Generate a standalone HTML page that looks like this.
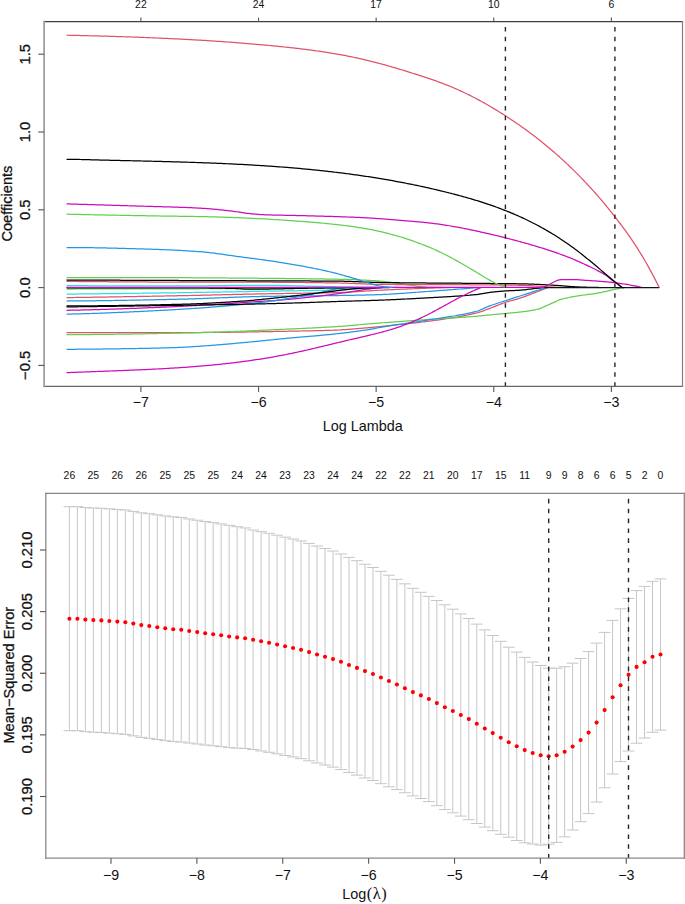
<!DOCTYPE html>
<html><head><meta charset="utf-8"><title>Lasso</title><style>
html,body{margin:0;padding:0;background:#fff;}
body{width:685px;height:904px;overflow:hidden;font-family:"Liberation Sans", sans-serif;}
svg{display:block;}
svg text{font-family:"Liberation Sans", sans-serif;fill:#111111;}
svg text.r{stroke:#111111;stroke-width:0.28px;}
</style></head><body>
<svg width="685" height="904" viewBox="0 0 685 904">
<rect width="685" height="904" fill="#fff"/>
<g fill="none" stroke-width="1.25" stroke-linejoin="round" stroke-linecap="round">
<path d="M67 277.5L68.5 277.5L70 277.5L71.5 277.5L73 277.5L74.5 277.5L76 277.5L77.5 277.5L79 277.5L80.5 277.5L82 277.5L83.5 277.51L85 277.51L86.5 277.51L88 277.51L89.5 277.51L91 277.51L92.5 277.51L94 277.51L95.5 277.52L97 277.52L98.5 277.52L100 277.52L101.5 277.52L103 277.52L104.5 277.53L106 277.53L107.5 277.53L109 277.53L110.5 277.54L112 277.54L113.5 277.54L115 277.54L116.5 277.55L118 277.55L119.5 277.55L121 277.55L122.5 277.56L124 277.56L125.5 277.56L127 277.56L128.5 277.57L130 277.57L131.5 277.57L133 277.58L134.5 277.58L136 277.58L137.5 277.59L139 277.59L140.5 277.59L142 277.6L143.5 277.6L145 277.6L146.5 277.61L148 277.61L149.5 277.62L151 277.62L152.5 277.62L154 277.63L155.5 277.63L157 277.64L158.5 277.64L160 277.64L161.5 277.65L163 277.65L164.5 277.66L166 277.66L167.5 277.66L169 277.67L170.5 277.67L172 277.68L173.5 277.68L175 277.69L176.5 277.69L178 277.69L179.5 277.7L181 277.7L182.5 277.71L184 277.71L185.5 277.72L187 277.73L188.5 277.73L190 277.74L191.5 277.75L193 277.75L194.5 277.76L196 277.77L197.5 277.78L199 277.79L200.5 277.8L202 277.81L203.5 277.81L205 277.82L206.5 277.84L208 277.85L209.5 277.86L211 277.87L212.5 277.88L214 277.89L215.5 277.9L217 277.91L218.5 277.92L220 277.94L221.5 277.95L223 277.96L224.5 277.97L226 277.98L227.5 278L229 278.01L230.5 278.02L232 278.03L233.5 278.05L235 278.06L236.5 278.07L238 278.08L239.5 278.1L241 278.11L242.5 278.12L244 278.13L245.5 278.15L247 278.16L248.5 278.17L250 278.18L251.5 278.2L253 278.21L254.5 278.22L256 278.23L257.5 278.24L259 278.26L260.5 278.27L262 278.28L263.5 278.3L265 278.31L266.5 278.32L268 278.33L269.5 278.35L271 278.36L272.5 278.37L274 278.39L275.5 278.4L277 278.42L278.5 278.43L280 278.44L281.5 278.46L283 278.47L284.5 278.49L286 278.5L287.5 278.52L289 278.54L290.5 278.55L292 278.57L293.5 278.58L295 278.6L296.5 278.62L298 278.64L299.5 278.65L301 278.67L302.5 278.69L304 278.71L305.5 278.73L307 278.75L308.5 278.77L310 278.79L311.5 278.81L313 278.83L314.5 278.85L316 278.88L317.5 278.9L319 278.92L320.5 278.95L322 278.97L323.5 278.99L325 279.02L326.5 279.04L328 279.07L329.5 279.1L331 279.12L332.5 279.15L334 279.18L335.5 279.21L337 279.24L338.5 279.27L340 279.3L341.5 279.33L343 279.37L344.5 279.4L346 279.45L347.5 279.49L349 279.53L350.5 279.58L352 279.63L353.5 279.69L355 279.74L356.5 279.8L358 279.86L359.5 279.93L361 280L362.5 280.07L364 280.14L365.5 280.22L367 280.3L368.5 280.38L370 280.46L371.5 280.55L373 280.64L374.5 280.73L376 280.83L377.5 280.93L379 281.03L380.5 281.14L382 281.26L383.5 281.41L385 281.58L386.5 281.77L388 281.97L389.5 282.18L391 282.41L392.5 282.64L394 282.87L395.5 283.11L397 283.35L398.5 283.58L400 283.81L401.5 284.03L403 284.24L404.5 284.44L406 284.63L407.5 284.82L409 285.03L410.5 285.24L412 285.45L413.5 285.66L415 285.87L416.5 286.08L418 286.28L419.5 286.47L421 286.64L422.5 286.81L424 286.95L425.5 287.07L427 287.18L428.5 287.25L430 287.3L431.5 287.33L433 287.36L434.5 287.39L436 287.42L437.5 287.44L439 287.46L440.5 287.48L442 287.49L443.5 287.5L445 287.5" stroke="#61D04F"/>
<path d="M67 281.4L68.5 281.41L70 281.43L71.5 281.44L73 281.45L74.5 281.47L76 281.48L77.5 281.49L79 281.51L80.5 281.52L82 281.53L83.5 281.55L85 281.56L86.5 281.57L88 281.58L89.5 281.6L91 281.61L92.5 281.62L94 281.63L95.5 281.65L97 281.66L98.5 281.67L100 281.68L101.5 281.69L103 281.7L104.5 281.72L106 281.73L107.5 281.74L109 281.75L110.5 281.76L112 281.77L113.5 281.78L115 281.79L116.5 281.8L118 281.81L119.5 281.82L121 281.83L122.5 281.84L124 281.85L125.5 281.86L127 281.87L128.5 281.88L130 281.89L131.5 281.9L133 281.91L134.5 281.92L136 281.93L137.5 281.93L139 281.94L140.5 281.95L142 281.96L143.5 281.97L145 281.97L146.5 281.98L148 281.99L149.5 282L151 282L152.5 282.01L154 282.02L155.5 282.02L157 282.03L158.5 282.04L160 282.04L161.5 282.05L163 282.05L164.5 282.06L166 282.06L167.5 282.07L169 282.07L170.5 282.08L172 282.08L173.5 282.08L175 282.09L176.5 282.09L178 282.1L179.5 282.1L181 282.1L182.5 282.1L184 282.11L185.5 282.11L187 282.11L188.5 282.11L190 282.12L191.5 282.12L193 282.12L194.5 282.12L196 282.13L197.5 282.13L199 282.13L200.5 282.13L202 282.13L203.5 282.13L205 282.13L206.5 282.14L208 282.14L209.5 282.14L211 282.14L212.5 282.14L214 282.14L215.5 282.14L217 282.15L218.5 282.15L220 282.15L221.5 282.15L223 282.15L224.5 282.15L226 282.15L227.5 282.15L229 282.16L230.5 282.16L232 282.16L233.5 282.16L235 282.16L236.5 282.16L238 282.16L239.5 282.17L241 282.17L242.5 282.17L244 282.17L245.5 282.17L247 282.18L248.5 282.18L250 282.18L251.5 282.18L253 282.19L254.5 282.19L256 282.19L257.5 282.19L259 282.2L260.5 282.2L262 282.2L263.5 282.21L265 282.21L266.5 282.22L268 282.22L269.5 282.23L271 282.24L272.5 282.24L274 282.25L275.5 282.26L277 282.27L278.5 282.28L280 282.29L281.5 282.3L283 282.31L284.5 282.32L286 282.33L287.5 282.34L289 282.35L290.5 282.37L292 282.38L293.5 282.39L295 282.41L296.5 282.42L298 282.44L299.5 282.45L301 282.47L302.5 282.48L304 282.5L305.5 282.52L307 282.53L308.5 282.55L310 282.57L311.5 282.59L313 282.61L314.5 282.62L316 282.64L317.5 282.66L319 282.68L320.5 282.7L322 282.72L323.5 282.75L325 282.77L326.5 282.79L328 282.81L329.5 282.83L331 282.86L332.5 282.88L334 282.9L335.5 282.93L337 282.95L338.5 282.98L340 283L341.5 283.03L343 283.06L344.5 283.1L346 283.15L347.5 283.2L349 283.26L350.5 283.32L352 283.38L353.5 283.44L355 283.51L356.5 283.58L358 283.65L359.5 283.72L361 283.79L362.5 283.86L364 283.92L365.5 283.99L367 284.05L368.5 284.11L370 284.17L371.5 284.22L373 284.26L374.5 284.31L376 284.34L377.5 284.37L379 284.39L380.5 284.4L382 284.42L383.5 284.43L385 284.44L386.5 284.45L388 284.46L389.5 284.47L391 284.48L392.5 284.49L394 284.49L395.5 284.5L397 284.51L398.5 284.52L400 284.52L401.5 284.53L403 284.54L404.5 284.54L406 284.55L407.5 284.56L409 284.56L410.5 284.57L412 284.57L413.5 284.58L415 284.58L416.5 284.58L418 284.59L419.5 284.59L421 284.6L422.5 284.6L424 284.61L425.5 284.61L427 284.61L428.5 284.62L430 284.62L431.5 284.62L433 284.63L434.5 284.63L436 284.63L437.5 284.64L439 284.64L440.5 284.64L442 284.65L443.5 284.65L445 284.66L446.5 284.66L448 284.66L449.5 284.67L451 284.67L452.5 284.68L454 284.68L455.5 284.69L457 284.69L458.5 284.7L460 284.7L461.5 284.71L463 284.71L464.5 284.72L466 284.72L467.5 284.73L469 284.74L470.5 284.75L472 284.75L473.5 284.76L475 284.77L476.5 284.78L478 284.79L479.5 284.8L481 284.81L482.5 284.82L484 284.83L485.5 284.84L487 284.85L488.5 284.86L490 284.88L491.5 284.89L493 284.9L494.5 284.92L496 284.93L497.5 284.95L499 284.97L500.5 284.98L502 285L503.5 285.02L505 285.04L506.5 285.06L508 285.08L509.5 285.11L511 285.13L512.5 285.16L514 285.18L515.5 285.21L517 285.24L518.5 285.27L520 285.3L521.5 285.34L523 285.38L524.5 285.44L526 285.5L527.5 285.58L529 285.65L530.5 285.74L532 285.82L533.5 285.91L535 286L536.5 286.1L538 286.19L539.5 286.28L541 286.37L542.5 286.46L544 286.55L545.5 286.63L547 286.71L548.5 286.78L550 286.86L551.5 286.94L553 287.02L554.5 287.1L556 287.18L557.5 287.26L559 287.34L560.5 287.42L562 287.5" stroke="#DF536B"/>
<path d="M67 285.6L68.5 285.61L70 285.62L71.5 285.63L73 285.65L74.5 285.66L76 285.67L77.5 285.68L79 285.69L80.5 285.7L82 285.7L83.5 285.71L85 285.72L86.5 285.73L88 285.74L89.5 285.75L91 285.75L92.5 285.76L94 285.77L95.5 285.77L97 285.78L98.5 285.79L100 285.79L101.5 285.8L103 285.81L104.5 285.81L106 285.82L107.5 285.82L109 285.83L110.5 285.83L112 285.83L113.5 285.84L115 285.84L116.5 285.85L118 285.85L119.5 285.85L121 285.86L122.5 285.86L124 285.86L125.5 285.87L127 285.87L128.5 285.87L130 285.87L131.5 285.88L133 285.88L134.5 285.88L136 285.88L137.5 285.88L139 285.89L140.5 285.89L142 285.89L143.5 285.89L145 285.89L146.5 285.89L148 285.89L149.5 285.89L151 285.89L152.5 285.9L154 285.9L155.5 285.9L157 285.9L158.5 285.9L160 285.9L161.5 285.9L163 285.9L164.5 285.9L166 285.9L167.5 285.9L169 285.9L170.5 285.9L172 285.9L173.5 285.9L175 285.9L176.5 285.9L178 285.9L179.5 285.9L181 285.9L182.5 285.9L184 285.9L185.5 285.89L187 285.89L188.5 285.88L190 285.87L191.5 285.87L193 285.86L194.5 285.85L196 285.84L197.5 285.83L199 285.81L200.5 285.8L202 285.79L203.5 285.78L205 285.76L206.5 285.75L208 285.73L209.5 285.72L211 285.7L212.5 285.68L214 285.67L215.5 285.65L217 285.63L218.5 285.62L220 285.6L221.5 285.58L223 285.57L224.5 285.55L226 285.53L227.5 285.52L229 285.5L230.5 285.48L232 285.47L233.5 285.45L235 285.44L236.5 285.42L238 285.41L239.5 285.4L241 285.39L242.5 285.37L244 285.36L245.5 285.35L247 285.34L248.5 285.33L250 285.33L251.5 285.32L253 285.31L254.5 285.31L256 285.3L257.5 285.3L259 285.3L260.5 285.3L262 285.3L263.5 285.31L265 285.31L266.5 285.32L268 285.33L269.5 285.34L271 285.36L272.5 285.37L274 285.39L275.5 285.41L277 285.43L278.5 285.46L280 285.48L281.5 285.51L283 285.53L284.5 285.56L286 285.59L287.5 285.62L289 285.65L290.5 285.68L292 285.72L293.5 285.75L295 285.79L296.5 285.82L298 285.86L299.5 285.89L301 285.93L302.5 285.97L304 286.01L305.5 286.04L307 286.08L308.5 286.12L310 286.16L311.5 286.19L313 286.23L314.5 286.27L316 286.31L317.5 286.34L319 286.38L320.5 286.42L322 286.45L323.5 286.49L325 286.52L326.5 286.55L328 286.58L329.5 286.62L331 286.65L332.5 286.67L334 286.7L335.5 286.73L337 286.75L338.5 286.78L340 286.8L341.5 286.82L343 286.84L344.5 286.86L346 286.88L347.5 286.9L349 286.92L350.5 286.94L352 286.96L353.5 286.98L355 287L356.5 287.02L358 287.04L359.5 287.06L361 287.08L362.5 287.09L364 287.11L365.5 287.13L367 287.15L368.5 287.16L370 287.18L371.5 287.2L373 287.21L374.5 287.23L376 287.25L377.5 287.26L379 287.28L380.5 287.3L382 287.31L383.5 287.33L385 287.35L386.5 287.36L388 287.38L389.5 287.39L391 287.41L392.5 287.43L394 287.44L395.5 287.46L397 287.47L398.5 287.49L400 287.5" stroke="#28E2E5"/>
<path d="M67 289L68.5 289L70 289L71.5 289L73 289L74.5 288.99L76 288.99L77.5 288.99L79 288.99L80.5 288.99L82 288.99L83.5 288.99L85 288.98L86.5 288.98L88 288.98L89.5 288.98L91 288.98L92.5 288.98L94 288.97L95.5 288.97L97 288.97L98.5 288.97L100 288.97L101.5 288.96L103 288.96L104.5 288.96L106 288.96L107.5 288.95L109 288.95L110.5 288.95L112 288.95L113.5 288.94L115 288.94L116.5 288.94L118 288.94L119.5 288.93L121 288.93L122.5 288.93L124 288.93L125.5 288.92L127 288.92L128.5 288.92L130 288.91L131.5 288.91L133 288.91L134.5 288.9L136 288.9L137.5 288.9L139 288.89L140.5 288.89L142 288.89L143.5 288.89L145 288.88L146.5 288.88L148 288.88L149.5 288.87L151 288.87L152.5 288.87L154 288.86L155.5 288.86L157 288.86L158.5 288.85L160 288.85L161.5 288.84L163 288.84L164.5 288.84L166 288.83L167.5 288.83L169 288.83L170.5 288.82L172 288.82L173.5 288.82L175 288.81L176.5 288.81L178 288.8L179.5 288.8L181 288.8L182.5 288.79L184 288.79L185.5 288.79L187 288.78L188.5 288.78L190 288.77L191.5 288.77L193 288.76L194.5 288.76L196 288.76L197.5 288.75L199 288.75L200.5 288.74L202 288.74L203.5 288.73L205 288.73L206.5 288.72L208 288.72L209.5 288.71L211 288.71L212.5 288.7L214 288.69L215.5 288.69L217 288.68L218.5 288.68L220 288.67L221.5 288.67L223 288.66L224.5 288.65L226 288.65L227.5 288.64L229 288.64L230.5 288.63L232 288.62L233.5 288.62L235 288.61L236.5 288.61L238 288.6L239.5 288.59L241 288.59L242.5 288.58L244 288.57L245.5 288.57L247 288.56L248.5 288.55L250 288.55L251.5 288.54L253 288.53L254.5 288.53L256 288.52L257.5 288.51L259 288.5L260.5 288.5L262 288.49L263.5 288.48L265 288.48L266.5 288.47L268 288.46L269.5 288.45L271 288.45L272.5 288.44L274 288.43L275.5 288.42L277 288.42L278.5 288.41L280 288.4L281.5 288.39L283 288.39L284.5 288.38L286 288.37L287.5 288.36L289 288.35L290.5 288.34L292 288.34L293.5 288.33L295 288.32L296.5 288.31L298 288.3L299.5 288.29L301 288.28L302.5 288.27L304 288.27L305.5 288.26L307 288.25L308.5 288.24L310 288.23L311.5 288.22L313 288.21L314.5 288.2L316 288.19L317.5 288.18L319 288.17L320.5 288.15L322 288.14L323.5 288.13L325 288.12L326.5 288.11L328 288.1L329.5 288.09L331 288.07L332.5 288.06L334 288.05L335.5 288.04L337 288.03L338.5 288.01L340 288L341.5 287.99L343 287.97L344.5 287.96L346 287.94L347.5 287.93L349 287.91L350.5 287.89L352 287.88L353.5 287.86L355 287.84L356.5 287.82L358 287.81L359.5 287.79L361 287.77L362.5 287.75L364 287.73L365.5 287.71L367 287.69L368.5 287.66L370 287.64L371.5 287.62L373 287.6L374.5 287.58L376 287.56L377.5 287.54L379 287.51L380 287.5" stroke="#61D04F"/>
<path d="M67 294.1L68.5 294.09L70 294.07L71.5 294.06L73 294.04L74.5 294.03L76 294.01L77.5 294L79 293.98L80.5 293.97L82 293.95L83.5 293.94L85 293.92L86.5 293.9L88 293.89L89.5 293.87L91 293.86L92.5 293.84L94 293.82L95.5 293.81L97 293.79L98.5 293.77L100 293.76L101.5 293.74L103 293.72L104.5 293.7L106 293.69L107.5 293.67L109 293.65L110.5 293.63L112 293.62L113.5 293.6L115 293.58L116.5 293.56L118 293.54L119.5 293.52L121 293.51L122.5 293.49L124 293.47L125.5 293.45L127 293.43L128.5 293.41L130 293.39L131.5 293.37L133 293.35L134.5 293.33L136 293.31L137.5 293.29L139 293.27L140.5 293.25L142 293.23L143.5 293.21L145 293.19L146.5 293.17L148 293.15L149.5 293.13L151 293.11L152.5 293.09L154 293.07L155.5 293.05L157 293.03L158.5 293.01L160 292.99L161.5 292.97L163 292.94L164.5 292.92L166 292.9L167.5 292.88L169 292.86L170.5 292.84L172 292.82L173.5 292.79L175 292.77L176.5 292.75L178 292.73L179.5 292.71L181 292.69L182.5 292.66L184 292.64L185.5 292.62L187 292.59L188.5 292.57L190 292.55L191.5 292.52L193 292.5L194.5 292.47L196 292.45L197.5 292.42L199 292.4L200.5 292.37L202 292.35L203.5 292.32L205 292.3L206.5 292.27L208 292.24L209.5 292.22L211 292.19L212.5 292.16L214 292.14L215.5 292.11L217 292.08L218.5 292.06L220 292.03L221.5 292L223 291.97L224.5 291.95L226 291.92L227.5 291.89L229 291.86L230.5 291.84L232 291.81L233.5 291.78L235 291.75L236.5 291.73L238 291.7L239.5 291.67L241 291.64L242.5 291.61L244 291.59L245.5 291.56L247 291.53L248.5 291.51L250 291.48L251.5 291.45L253 291.42L254.5 291.4L256 291.37L257.5 291.34L259 291.32L260.5 291.29L262 291.27L263.5 291.24L265 291.22L266.5 291.19L268 291.17L269.5 291.14L271 291.12L272.5 291.1L274 291.08L275.5 291.06L277 291.03L278.5 291.01L280 290.99L281.5 290.97L283 290.95L284.5 290.93L286 290.91L287.5 290.89L289 290.87L290.5 290.85L292 290.82L293.5 290.8L295 290.78L296.5 290.76L298 290.74L299.5 290.72L301 290.7L302.5 290.67L304 290.65L305.5 290.63L307 290.6L308.5 290.58L310 290.55L311.5 290.53L313 290.5L314.5 290.48L316 290.45L317.5 290.42L319 290.39L320.5 290.36L322 290.33L323.5 290.3L325 290.27L326.5 290.24L328 290.21L329.5 290.17L331 290.14L332.5 290.1L334 290.06L335.5 290.02L337 289.98L338.5 289.94L340 289.9L341.5 289.85L343 289.79L344.5 289.72L346 289.65L347.5 289.56L349 289.47L350.5 289.38L352 289.27L353.5 289.17L355 289.06L356.5 288.95L358 288.83L359.5 288.72L361 288.61L362.5 288.5L364 288.39L365.5 288.28L367 288.18L368.5 288.08L370 287.99L371.5 287.91L373 287.83L374.5 287.76L376 287.7L377.5 287.65L379 287.62L380.5 287.59L382 287.57L383.5 287.55L385 287.53L386.5 287.52L388 287.51L389.5 287.5L390 287.5" stroke="#28E2E5"/>
<path d="M67 297.6L68.5 297.58L70 297.56L71.5 297.54L73 297.52L74.5 297.5L76 297.48L77.5 297.45L79 297.43L80.5 297.41L82 297.39L83.5 297.37L85 297.35L86.5 297.32L88 297.3L89.5 297.28L91 297.26L92.5 297.23L94 297.21L95.5 297.19L97 297.16L98.5 297.14L100 297.12L101.5 297.09L103 297.07L104.5 297.05L106 297.02L107.5 297L109 296.97L110.5 296.95L112 296.93L113.5 296.9L115 296.88L116.5 296.85L118 296.83L119.5 296.8L121 296.78L122.5 296.75L124 296.73L125.5 296.7L127 296.67L128.5 296.65L130 296.62L131.5 296.6L133 296.57L134.5 296.54L136 296.52L137.5 296.49L139 296.46L140.5 296.44L142 296.41L143.5 296.38L145 296.36L146.5 296.33L148 296.3L149.5 296.27L151 296.25L152.5 296.22L154 296.19L155.5 296.16L157 296.14L158.5 296.11L160 296.08L161.5 296.05L163 296.02L164.5 296L166 295.97L167.5 295.94L169 295.91L170.5 295.88L172 295.85L173.5 295.83L175 295.8L176.5 295.77L178 295.74L179.5 295.71L181 295.68L182.5 295.65L184 295.62L185.5 295.59L187 295.56L188.5 295.53L190 295.5L191.5 295.46L193 295.43L194.5 295.4L196 295.36L197.5 295.33L199 295.3L200.5 295.26L202 295.23L203.5 295.19L205 295.16L206.5 295.12L208 295.09L209.5 295.05L211 295.02L212.5 294.98L214 294.95L215.5 294.91L217 294.87L218.5 294.84L220 294.8L221.5 294.77L223 294.73L224.5 294.69L226 294.66L227.5 294.62L229 294.59L230.5 294.55L232 294.52L233.5 294.48L235 294.45L236.5 294.41L238 294.38L239.5 294.34L241 294.31L242.5 294.27L244 294.24L245.5 294.21L247 294.17L248.5 294.14L250 294.11L251.5 294.07L253 294.04L254.5 294.01L256 293.98L257.5 293.95L259 293.92L260.5 293.89L262 293.86L263.5 293.83L265 293.81L266.5 293.78L268 293.75L269.5 293.73L271 293.7L272.5 293.68L274 293.66L275.5 293.63L277 293.61L278.5 293.59L280 293.57L281.5 293.55L283 293.52L284.5 293.5L286 293.48L287.5 293.46L289 293.44L290.5 293.42L292 293.4L293.5 293.38L295 293.36L296.5 293.34L298 293.32L299.5 293.3L301 293.27L302.5 293.25L304 293.23L305.5 293.21L307 293.19L308.5 293.16L310 293.14L311.5 293.11L313 293.09L314.5 293.06L316 293.04L317.5 293.01L319 292.98L320.5 292.96L322 292.93L323.5 292.9L325 292.87L326.5 292.83L328 292.8L329.5 292.77L331 292.73L332.5 292.7L334 292.66L335.5 292.62L337 292.58L338.5 292.54L340 292.5L341.5 292.45L343 292.4L344.5 292.34L346 292.27L347.5 292.2L349 292.13L350.5 292.04L352 291.96L353.5 291.87L355 291.78L356.5 291.68L358 291.58L359.5 291.49L361 291.38L362.5 291.28L364 291.18L365.5 291.08L367 290.98L368.5 290.88L370 290.78L371.5 290.68L373 290.59L374.5 290.5L376 290.41L377.5 290.33L379 290.25L380.5 290.18L382 290.1L383.5 290.03L385 289.96L386.5 289.89L388 289.82L389.5 289.75L391 289.68L392.5 289.62L394 289.55L395.5 289.48L397 289.42L398.5 289.36L400 289.29L401.5 289.23L403 289.17L404.5 289.1L406 289.04L407.5 288.98L409 288.92L410.5 288.86L412 288.8L413.5 288.75L415 288.69L416.5 288.63L418 288.57L419.5 288.52L421 288.46L422.5 288.41L424 288.35L425.5 288.3L427 288.25L428.5 288.19L430 288.14L431.5 288.09L433 288.04L434.5 287.99L436 287.94L437.5 287.89L439 287.84L440.5 287.79L442 287.74L443.5 287.7L445 287.65L446.5 287.6L448 287.56L449.5 287.51L450 287.5" stroke="#DF536B"/>
<path d="M67 301L68.5 300.99L70 300.98L71.5 300.97L73 300.96L74.5 300.95L76 300.94L77.5 300.93L79 300.92L80.5 300.9L82 300.89L83.5 300.88L85 300.86L86.5 300.85L88 300.83L89.5 300.81L91 300.8L92.5 300.78L94 300.76L95.5 300.75L97 300.73L98.5 300.71L100 300.69L101.5 300.67L103 300.65L104.5 300.63L106 300.61L107.5 300.59L109 300.56L110.5 300.54L112 300.52L113.5 300.5L115 300.47L116.5 300.45L118 300.43L119.5 300.4L121 300.38L122.5 300.35L124 300.33L125.5 300.3L127 300.27L128.5 300.25L130 300.22L131.5 300.19L133 300.17L134.5 300.14L136 300.11L137.5 300.08L139 300.05L140.5 300.03L142 300L143.5 299.97L145 299.94L146.5 299.91L148 299.88L149.5 299.85L151 299.82L152.5 299.79L154 299.76L155.5 299.73L157 299.7L158.5 299.66L160 299.63L161.5 299.6L163 299.57L164.5 299.54L166 299.51L167.5 299.47L169 299.44L170.5 299.41L172 299.38L173.5 299.34L175 299.31L176.5 299.28L178 299.24L179.5 299.21L181 299.18L182.5 299.14L184 299.1L185.5 299.06L187 299.02L188.5 298.98L190 298.93L191.5 298.89L193 298.84L194.5 298.79L196 298.74L197.5 298.69L199 298.63L200.5 298.58L202 298.52L203.5 298.47L205 298.41L206.5 298.35L208 298.29L209.5 298.23L211 298.18L212.5 298.12L214 298.05L215.5 297.99L217 297.93L218.5 297.87L220 297.81L221.5 297.75L223 297.69L224.5 297.63L226 297.57L227.5 297.51L229 297.45L230.5 297.39L232 297.34L233.5 297.28L235 297.22L236.5 297.17L238 297.11L239.5 297.06L241 297.01L242.5 296.96L244 296.91L245.5 296.86L247 296.82L248.5 296.77L250 296.73L251.5 296.69L253 296.65L254.5 296.62L256 296.58L257.5 296.55L259 296.52L260.5 296.49L262 296.46L263.5 296.44L265 296.41L266.5 296.39L268 296.37L269.5 296.34L271 296.32L272.5 296.3L274 296.28L275.5 296.26L277 296.24L278.5 296.22L280 296.2L281.5 296.18L283 296.16L284.5 296.15L286 296.13L287.5 296.11L289 296.1L290.5 296.08L292 296.07L293.5 296.05L295 296.03L296.5 296.02L298 296L299.5 295.99L301 295.97L302.5 295.96L304 295.94L305.5 295.93L307 295.91L308.5 295.9L310 295.88L311.5 295.87L313 295.85L314.5 295.84L316 295.82L317.5 295.8L319 295.79L320.5 295.77L322 295.75L323.5 295.73L325 295.71L326.5 295.7L328 295.68L329.5 295.66L331 295.64L332.5 295.62L334 295.59L335.5 295.57L337 295.55L338.5 295.52L340 295.5L341.5 295.48L343 295.45L344.5 295.42L346 295.4L347.5 295.37L349 295.35L350.5 295.32L352 295.29L353.5 295.26L355 295.24L356.5 295.21L358 295.18L359.5 295.14L361 295.11L362.5 295.08L364 295.05L365.5 295.01L367 294.97L368.5 294.94L370 294.9L371.5 294.86L373 294.82L374.5 294.77L376 294.73L377.5 294.68L379 294.63L380.5 294.58L382 294.53L383.5 294.47L385 294.4L386.5 294.33L388 294.25L389.5 294.16L391 294.08L392.5 293.99L394 293.89L395.5 293.79L397 293.69L398.5 293.59L400 293.48L401.5 293.37L403 293.26L404.5 293.15L406 293.04L407.5 292.92L409 292.81L410.5 292.7L412 292.58L413.5 292.47L415 292.36L416.5 292.25L418 292.14L419.5 292.03L421 291.93L422.5 291.82L424 291.72L425.5 291.61L427 291.5L428.5 291.39L430 291.28L431.5 291.17L433 291.06L434.5 290.94L436 290.83L437.5 290.72L439 290.6L440.5 290.49L442 290.37L443.5 290.26L445 290.14L446.5 290.03L448 289.91L449.5 289.8L451 289.68L452.5 289.57L454 289.45L455.5 289.34L457 289.23L458.5 289.11L460 289L461.5 288.89L463 288.77L464.5 288.66L466 288.55L467.5 288.44L469 288.32L470.5 288.21L472 288.1L473.5 287.99L475 287.88L476.5 287.76L478 287.65L479.5 287.54L480 287.5" stroke="#2297E6"/>
<path d="M67 310.3L68.5 310.27L70 310.24L71.5 310.21L73 310.18L74.5 310.15L76 310.12L77.5 310.09L79 310.06L80.5 310.02L82 309.99L83.5 309.95L85 309.91L86.5 309.88L88 309.84L89.5 309.8L91 309.76L92.5 309.72L94 309.68L95.5 309.64L97 309.59L98.5 309.55L100 309.51L101.5 309.46L103 309.42L104.5 309.37L106 309.32L107.5 309.28L109 309.23L110.5 309.18L112 309.13L113.5 309.08L115 309.03L116.5 308.98L118 308.93L119.5 308.87L121 308.82L122.5 308.77L124 308.71L125.5 308.66L127 308.61L128.5 308.55L130 308.49L131.5 308.44L133 308.38L134.5 308.32L136 308.27L137.5 308.21L139 308.15L140.5 308.09L142 308.03L143.5 307.97L145 307.91L146.5 307.85L148 307.79L149.5 307.73L151 307.66L152.5 307.6L154 307.54L155.5 307.47L157 307.41L158.5 307.35L160 307.28L161.5 307.22L163 307.15L164.5 307.09L166 307.02L167.5 306.96L169 306.89L170.5 306.83L172 306.76L173.5 306.69L175 306.62L176.5 306.56L178 306.49L179.5 306.42L181 306.35L182.5 306.28L184 306.21L185.5 306.14L187 306.06L188.5 305.99L190 305.91L191.5 305.83L193 305.75L194.5 305.66L196 305.58L197.5 305.5L199 305.41L200.5 305.32L202 305.23L203.5 305.14L205 305.05L206.5 304.96L208 304.86L209.5 304.77L211 304.67L212.5 304.58L214 304.48L215.5 304.38L217 304.29L218.5 304.19L220 304.09L221.5 303.99L223 303.89L224.5 303.79L226 303.69L227.5 303.58L229 303.48L230.5 303.38L232 303.28L233.5 303.18L235 303.07L236.5 302.97L238 302.87L239.5 302.77L241 302.66L242.5 302.56L244 302.46L245.5 302.36L247 302.26L248.5 302.16L250 302.06L251.5 301.96L253 301.86L254.5 301.76L256 301.66L257.5 301.56L259 301.46L260.5 301.37L262 301.27L263.5 301.18L265 301.09L266.5 301L268 300.91L269.5 300.82L271 300.72L272.5 300.63L274 300.53L275.5 300.43L277 300.32L278.5 300.21L280 300.1L281.5 299.98L283 299.86L284.5 299.73L286 299.6L287.5 299.47L289 299.33L290.5 299.19L292 299.05L293.5 298.91L295 298.76L296.5 298.61L298 298.45L299.5 298.3L301 298.14L302.5 297.98L304 297.82L305.5 297.65L307 297.49L308.5 297.32L310 297.15L311.5 296.98L313 296.81L314.5 296.64L316 296.46L317.5 296.29L319 296.12L320.5 295.94L322 295.76L323.5 295.58L325 295.39L326.5 295.21L328 295.01L329.5 294.82L331 294.62L332.5 294.42L334 294.22L335.5 294.01L337 293.81L338.5 293.6L340 293.39L341.5 293.18L343 292.97L344.5 292.76L346 292.56L347.5 292.35L349 292.14L350.5 291.93L352 291.71L353.5 291.48L355 291.24L356.5 290.99L358 290.74L359.5 290.49L361 290.23L362.5 289.98L364 289.73L365.5 289.48L367 289.25L368.5 289.02L370 288.81L371.5 288.62L373 288.44L374.5 288.28L376 288.14L377.5 288.03L379 287.94L380.5 287.85L382 287.77L383.5 287.7L385 287.63L386.5 287.58L388 287.54L389.5 287.51L390 287.5" stroke="#CD0BBC"/>
<path d="M67 314.1L68.5 314.07L70 314.04L71.5 314.01L73 313.98L74.5 313.95L76 313.91L77.5 313.88L79 313.84L80.5 313.8L82 313.76L83.5 313.72L85 313.68L86.5 313.64L88 313.59L89.5 313.55L91 313.5L92.5 313.45L94 313.4L95.5 313.35L97 313.3L98.5 313.25L100 313.2L101.5 313.15L103 313.09L104.5 313.04L106 312.98L107.5 312.92L109 312.86L110.5 312.8L112 312.74L113.5 312.68L115 312.62L116.5 312.56L118 312.49L119.5 312.43L121 312.36L122.5 312.3L124 312.23L125.5 312.16L127 312.09L128.5 312.02L130 311.95L131.5 311.88L133 311.81L134.5 311.74L136 311.67L137.5 311.59L139 311.52L140.5 311.44L142 311.37L143.5 311.29L145 311.22L146.5 311.14L148 311.06L149.5 310.98L151 310.91L152.5 310.83L154 310.75L155.5 310.67L157 310.59L158.5 310.5L160 310.42L161.5 310.34L163 310.26L164.5 310.18L166 310.09L167.5 310.01L169 309.92L170.5 309.84L172 309.76L173.5 309.67L175 309.59L176.5 309.5L178 309.41L179.5 309.33L181 309.24L182.5 309.15L184 309.07L185.5 308.97L187 308.88L188.5 308.79L190 308.69L191.5 308.6L193 308.5L194.5 308.4L196 308.3L197.5 308.2L199 308.1L200.5 307.99L202 307.88L203.5 307.78L205 307.67L206.5 307.56L208 307.44L209.5 307.33L211 307.22L212.5 307.1L214 306.98L215.5 306.86L217 306.74L218.5 306.62L220 306.49L221.5 306.37L223 306.24L224.5 306.11L226 305.98L227.5 305.85L229 305.72L230.5 305.58L232 305.44L233.5 305.31L235 305.17L236.5 305.02L238 304.88L239.5 304.74L241 304.59L242.5 304.44L244 304.29L245.5 304.14L247 303.99L248.5 303.84L250 303.68L251.5 303.52L253 303.36L254.5 303.2L256 303.04L257.5 302.88L259 302.71L260.5 302.54L262 302.37L263.5 302.19L265 302.01L266.5 301.81L268 301.62L269.5 301.41L271 301.2L272.5 300.99L274 300.77L275.5 300.55L277 300.32L278.5 300.09L280 299.86L281.5 299.62L283 299.38L284.5 299.14L286 298.89L287.5 298.64L289 298.39L290.5 298.13L292 297.88L293.5 297.62L295 297.37L296.5 297.11L298 296.85L299.5 296.59L301 296.33L302.5 296.06L304 295.78L305.5 295.5L307 295.22L308.5 294.93L310 294.64L311.5 294.34L313 294.04L314.5 293.73L316 293.43L317.5 293.12L319 292.81L320.5 292.49L322 292.16L323.5 291.81L325 291.45L326.5 291.07L328 290.7L329.5 290.33L331 289.97L332.5 289.63L334 289.31L335.5 289.01L337 288.75L338.5 288.53L340 288.33L341.5 288.13L343 287.96L344.5 287.8L346 287.66L347.5 287.54L348 287.5" stroke="#2297E6"/>
<path d="M67 287.8L68.5 287.8L70 287.8L71.5 287.8L73 287.8L74.5 287.8L76 287.8L77.5 287.8L79 287.8L80.5 287.8L82 287.8L83.5 287.8L85 287.8L86.5 287.8L88 287.8L89.5 287.8L91 287.8L92.5 287.8L94 287.8L95.5 287.8L97 287.8L98.5 287.8L100 287.8L101.5 287.8L103 287.8L104.5 287.8L106 287.8L107.5 287.8L109 287.8L110.5 287.8L112 287.8L113.5 287.8L115 287.8L116.5 287.8L118 287.8L119.5 287.8L121 287.8L122.5 287.8L124 287.8L125.5 287.8L127 287.8L128.5 287.8L130 287.8L131.5 287.8L133 287.8L134.5 287.8L136 287.8L137.5 287.8L139 287.8L140.5 287.8L142 287.8L143.5 287.8L145 287.8L146.5 287.8L148 287.8L149.5 287.8L151 287.8L152.5 287.8L154 287.8L155.5 287.8L157 287.8L158.5 287.8L160 287.8L161.5 287.8L163 287.8L164.5 287.8L166 287.8L167.5 287.8L169 287.8L170.5 287.8L172 287.8L173.5 287.8L175 287.8L176.5 287.8L178 287.8L179.5 287.8L181 287.8L182.5 287.8L184 287.8L185.5 287.81L187 287.81L188.5 287.82L190 287.83L191.5 287.83L193 287.84L194.5 287.85L196 287.87L197.5 287.88L199 287.89L200.5 287.91L202 287.92L203.5 287.94L205 287.96L206.5 287.97L208 287.99L209.5 288.01L211 288.03L212.5 288.06L214 288.08L215.5 288.1L217 288.13L218.5 288.15L220 288.18L221.5 288.2L223 288.23L224.5 288.25L226 288.28L227.5 288.31L229 288.34L230.5 288.37L232 288.4L233.5 288.44L235 288.5L236.5 288.58L238 288.66L239.5 288.75L241 288.85L242.5 288.94L244 289.02L245.5 289.09L247 289.15L248.5 289.19L250 289.2L251.5 289.2L253 289.19L254.5 289.18L256 289.17L257.5 289.16L259 289.14L260.5 289.13L262 289.11L263.5 289.09L265 289.07L266.5 289.05L268 289.03L269.5 289.01L271 288.99L272.5 288.96L274 288.94L275.5 288.91L277 288.89L278.5 288.86L280 288.82L281.5 288.79L283 288.76L284.5 288.73L286 288.69L287.5 288.66L289 288.63L290.5 288.59L292 288.56L293.5 288.53L295 288.5L296.5 288.47L298 288.44L299.5 288.41L301 288.38L302.5 288.36L304 288.33L305.5 288.3L307 288.28L308.5 288.25L310 288.23L311.5 288.2L313 288.18L314.5 288.15L316 288.13L317.5 288.1L319 288.08L320.5 288.06L322 288.03L323.5 288.01L325 287.99L326.5 287.97L328 287.94L329.5 287.92L331 287.9L332.5 287.89L334 287.87L335.5 287.85L337 287.83L338.5 287.82L340 287.8L341.5 287.79L343 287.77L344.5 287.76L346 287.74L347.5 287.73L349 287.71L350.5 287.7L352 287.69L353.5 287.67L355 287.66L356.5 287.65L358 287.63L359.5 287.62L361 287.61L362.5 287.6L364 287.59L365.5 287.58L367 287.57L368.5 287.56L370 287.55L371.5 287.54L373 287.53L374.5 287.52L376 287.52L377.5 287.51L379 287.5L380 287.5" stroke="#000000"/>
<path d="M67 306.9L68.5 306.88L70 306.86L71.5 306.84L73 306.83L74.5 306.81L76 306.79L77.5 306.77L79 306.75L80.5 306.73L82 306.71L83.5 306.69L85 306.67L86.5 306.65L88 306.63L89.5 306.62L91 306.6L92.5 306.58L94 306.56L95.5 306.54L97 306.52L98.5 306.5L100 306.48L101.5 306.46L103 306.44L104.5 306.41L106 306.39L107.5 306.37L109 306.35L110.5 306.33L112 306.31L113.5 306.29L115 306.27L116.5 306.25L118 306.23L119.5 306.21L121 306.19L122.5 306.16L124 306.14L125.5 306.12L127 306.1L128.5 306.08L130 306.06L131.5 306.04L133 306.01L134.5 305.99L136 305.97L137.5 305.95L139 305.93L140.5 305.9L142 305.88L143.5 305.86L145 305.84L146.5 305.81L148 305.79L149.5 305.77L151 305.75L152.5 305.72L154 305.7L155.5 305.68L157 305.66L158.5 305.63L160 305.61L161.5 305.59L163 305.56L164.5 305.54L166 305.52L167.5 305.5L169 305.47L170.5 305.45L172 305.43L173.5 305.4L175 305.38L176.5 305.35L178 305.33L179.5 305.31L181 305.28L182.5 305.26L184 305.24L185.5 305.21L187 305.19L188.5 305.17L190 305.14L191.5 305.12L193 305.1L194.5 305.07L196 305.05L197.5 305.03L199 305L200.5 304.98L202 304.95L203.5 304.93L205 304.91L206.5 304.88L208 304.86L209.5 304.83L211 304.81L212.5 304.79L214 304.76L215.5 304.74L217 304.71L218.5 304.69L220 304.66L221.5 304.64L223 304.61L224.5 304.59L226 304.56L227.5 304.53L229 304.51L230.5 304.48L232 304.45L233.5 304.43L235 304.4L236.5 304.37L238 304.34L239.5 304.32L241 304.29L242.5 304.26L244 304.23L245.5 304.2L247 304.17L248.5 304.14L250 304.11L251.5 304.08L253 304.05L254.5 304.02L256 303.99L257.5 303.95L259 303.92L260.5 303.89L262 303.86L263.5 303.82L265 303.79L266.5 303.75L268 303.71L269.5 303.68L271 303.64L272.5 303.6L274 303.56L275.5 303.52L277 303.48L278.5 303.44L280 303.39L281.5 303.35L283 303.31L284.5 303.27L286 303.22L287.5 303.18L289 303.13L290.5 303.09L292 303.04L293.5 303L295 302.95L296.5 302.91L298 302.86L299.5 302.82L301 302.77L302.5 302.72L304 302.67L305.5 302.62L307 302.57L308.5 302.52L310 302.47L311.5 302.42L313 302.36L314.5 302.31L316 302.25L317.5 302.2L319 302.14L320.5 302.09L322 302.03L323.5 301.98L325 301.92L326.5 301.87L328 301.81L329.5 301.76L331 301.71L332.5 301.65L334 301.6L335.5 301.55L337 301.5L338.5 301.45L340 301.4L341.5 301.35L343 301.31L344.5 301.26L346 301.22L347.5 301.17L349 301.13L350.5 301.09L352 301.04L353.5 301L355 300.96L356.5 300.92L358 300.88L359.5 300.84L361 300.79L362.5 300.75L364 300.71L365.5 300.67L367 300.62L368.5 300.58L370 300.53L371.5 300.49L373 300.44L374.5 300.39L376 300.34L377.5 300.29L379 300.24L380.5 300.18L382 300.12L383.5 300.06L385 300L386.5 299.94L388 299.87L389.5 299.8L391 299.73L392.5 299.66L394 299.59L395.5 299.52L397 299.45L398.5 299.37L400 299.3L401.5 299.23L403 299.15L404.5 299.08L406 299L407.5 298.93L409 298.85L410.5 298.77L412 298.69L413.5 298.61L415 298.53L416.5 298.45L418 298.37L419.5 298.29L421 298.2L422.5 298.12L424 298.03L425.5 297.95L427 297.86L428.5 297.77L430 297.68L431.5 297.6L433 297.51L434.5 297.43L436 297.35L437.5 297.27L439 297.18L440.5 297.1L442 297.02L443.5 296.94L445 296.86L446.5 296.77L448 296.69L449.5 296.6L451 296.51L452.5 296.42L454 296.33L455.5 296.24L457 296.14L458.5 296.04L460 295.94L461.5 295.83L463 295.72L464.5 295.61L466 295.5L467.5 295.37L469 295.25L470.5 295.12L472 294.98L473.5 294.84L475 294.7L476.5 294.55L478 294.36L479.5 294.14L481 293.89L482.5 293.63L484 293.36L485.5 293.09L487 292.84L488.5 292.6L490 292.4L491.5 292.22L493 292.04L494.5 291.87L496 291.71L497.5 291.55L499 291.41L500.5 291.27L502 291.15L503.5 291.03L505 290.94L506.5 290.85L508 290.78L509.5 290.71L511 290.65L512.5 290.58L514 290.52L515.5 290.46L517 290.38L518.5 290.3L520 290.2L521.5 290.08L523 289.94L524.5 289.77L526 289.6L527.5 289.41L529 289.21L530.5 289.02L532 288.84L533.5 288.66L535 288.5L536.5 288.35L538 288.21L539.5 288.07L541 287.93L542.5 287.8L544 287.67L545.5 287.54L546 287.5" stroke="#000000"/>
<path d="M67 305.9L68.5 305.9L70 305.9L71.5 305.9L73 305.89L74.5 305.89L76 305.89L77.5 305.88L79 305.88L80.5 305.87L82 305.86L83.5 305.86L85 305.85L86.5 305.84L88 305.83L89.5 305.82L91 305.81L92.5 305.8L94 305.78L95.5 305.77L97 305.76L98.5 305.74L100 305.73L101.5 305.71L103 305.7L104.5 305.68L106 305.67L107.5 305.65L109 305.63L110.5 305.61L112 305.59L113.5 305.57L115 305.55L116.5 305.53L118 305.51L119.5 305.49L121 305.47L122.5 305.45L124 305.42L125.5 305.4L127 305.38L128.5 305.35L130 305.33L131.5 305.3L133 305.28L134.5 305.25L136 305.22L137.5 305.2L139 305.17L140.5 305.14L142 305.11L143.5 305.08L145 305.06L146.5 305.03L148 305L149.5 304.97L151 304.94L152.5 304.91L154 304.88L155.5 304.84L157 304.81L158.5 304.78L160 304.75L161.5 304.72L163 304.68L164.5 304.65L166 304.62L167.5 304.59L169 304.55L170.5 304.52L172 304.48L173.5 304.45L175 304.42L176.5 304.38L178 304.35L179.5 304.31L181 304.28L182.5 304.24L184 304.2L185.5 304.15L187 304.11L188.5 304.06L190 304.01L191.5 303.95L193 303.9L194.5 303.84L196 303.78L197.5 303.72L199 303.66L200.5 303.59L202 303.52L203.5 303.45L205 303.38L206.5 303.31L208 303.23L209.5 303.15L211 303.07L212.5 302.99L214 302.91L215.5 302.83L217 302.74L218.5 302.66L220 302.57L221.5 302.48L223 302.39L224.5 302.3L226 302.21L227.5 302.11L229 302.02L230.5 301.92L232 301.83L233.5 301.73L235 301.63L236.5 301.53L238 301.43L239.5 301.33L241 301.23L242.5 301.13L244 301.01L245.5 300.9L247 300.78L248.5 300.65L250 300.53L251.5 300.4L253 300.26L254.5 300.12L256 299.98L257.5 299.84L259 299.69L260.5 299.54L262 299.39L263.5 299.24L265 299.08L266.5 298.93L268 298.77L269.5 298.61L271 298.45L272.5 298.29L274 298.14L275.5 297.98L277 297.82L278.5 297.66L280 297.5L281.5 297.34L283 297.18L284.5 297.01L286 296.85L287.5 296.68L289 296.5L290.5 296.33L292 296.15L293.5 295.97L295 295.8L296.5 295.61L298 295.43L299.5 295.25L301 295.07L302.5 294.89L304 294.7L305.5 294.52L307 294.34L308.5 294.16L310 293.97L311.5 293.79L313 293.61L314.5 293.44L316 293.26L317.5 293.09L319 292.91L320.5 292.74L322 292.57L323.5 292.39L325 292.21L326.5 292.03L328 291.85L329.5 291.66L331 291.47L332.5 291.28L334 291.09L335.5 290.91L337 290.72L338.5 290.53L340 290.35L341.5 290.16L343 289.98L344.5 289.81L346 289.63L347.5 289.46L349 289.3L350.5 289.14L352 288.98L353.5 288.83L355 288.69L356.5 288.56L358 288.43L359.5 288.31L361 288.2L362.5 288.09L364 288L365.5 287.91L367 287.83L368.5 287.76L370 287.69L371.5 287.63L373 287.57L374.5 287.52L375 287.5" stroke="#000000"/>
<path d="M67 280L68.5 280.01L70 280.01L71.5 280.02L73 280.03L74.5 280.04L76 280.04L77.5 280.05L79 280.06L80.5 280.06L82 280.07L83.5 280.08L85 280.09L86.5 280.09L88 280.1L89.5 280.11L91 280.11L92.5 280.12L94 280.13L95.5 280.13L97 280.14L98.5 280.15L100 280.16L101.5 280.16L103 280.17L104.5 280.18L106 280.18L107.5 280.19L109 280.2L110.5 280.2L112 280.21L113.5 280.22L115 280.22L116.5 280.23L118 280.24L119.5 280.24L121 280.25L122.5 280.26L124 280.26L125.5 280.27L127 280.28L128.5 280.28L130 280.29L131.5 280.3L133 280.3L134.5 280.31L136 280.32L137.5 280.32L139 280.33L140.5 280.34L142 280.34L143.5 280.35L145 280.35L146.5 280.36L148 280.37L149.5 280.37L151 280.38L152.5 280.39L154 280.39L155.5 280.4L157 280.41L158.5 280.41L160 280.42L161.5 280.42L163 280.43L164.5 280.44L166 280.44L167.5 280.45L169 280.46L170.5 280.46L172 280.47L173.5 280.47L175 280.48L176.5 280.49L178 280.49L179.5 280.5L181 280.5L182.5 280.51L184 280.52L185.5 280.52L187 280.53L188.5 280.53L190 280.54L191.5 280.54L193 280.55L194.5 280.56L196 280.56L197.5 280.57L199 280.57L200.5 280.58L202 280.58L203.5 280.59L205 280.59L206.5 280.6L208 280.61L209.5 280.61L211 280.62L212.5 280.62L214 280.63L215.5 280.63L217 280.64L218.5 280.64L220 280.65L221.5 280.65L223 280.66L224.5 280.66L226 280.67L227.5 280.67L229 280.68L230.5 280.69L232 280.69L233.5 280.7L235 280.7L236.5 280.71L238 280.71L239.5 280.72L241 280.72L242.5 280.73L244 280.74L245.5 280.74L247 280.75L248.5 280.75L250 280.76L251.5 280.76L253 280.77L254.5 280.78L256 280.78L257.5 280.79L259 280.8L260.5 280.8L262 280.81L263.5 280.81L265 280.82L266.5 280.83L268 280.83L269.5 280.84L271 280.84L272.5 280.85L274 280.85L275.5 280.86L277 280.86L278.5 280.87L280 280.88L281.5 280.88L283 280.89L284.5 280.89L286 280.9L287.5 280.9L289 280.91L290.5 280.91L292 280.92L293.5 280.92L295 280.93L296.5 280.93L298 280.94L299.5 280.95L301 280.95L302.5 280.96L304 280.97L305.5 280.97L307 280.98L308.5 280.99L310 280.99L311.5 281L313 281.01L314.5 281.02L316 281.02L317.5 281.03L319 281.04L320.5 281.05L322 281.06L323.5 281.07L325 281.08L326.5 281.09L328 281.1L329.5 281.11L331 281.12L332.5 281.13L334 281.15L335.5 281.16L337 281.17L338.5 281.19L340 281.2L341.5 281.22L343 281.24L344.5 281.27L346 281.31L347.5 281.35L349 281.39L350.5 281.44L352 281.5L353.5 281.55L355 281.61L356.5 281.67L358 281.74L359.5 281.8L361 281.86L362.5 281.93L364 281.99L365.5 282.05L367 282.11L368.5 282.17L370 282.23L371.5 282.28L373 282.33L374.5 282.38L376 282.42L377.5 282.45L379 282.48L380.5 282.51L382 282.53L383.5 282.55L385 282.57L386.5 282.59L388 282.61L389.5 282.63L391 282.65L392.5 282.67L394 282.69L395.5 282.71L397 282.73L398.5 282.74L400 282.76L401.5 282.78L403 282.79L404.5 282.81L406 282.82L407.5 282.84L409 282.85L410.5 282.86L412 282.88L413.5 282.89L415 282.9L416.5 282.92L418 282.93L419.5 282.94L421 282.95L422.5 282.97L424 282.98L425.5 282.99L427 283L428.5 283.01L430 283.02L431.5 283.03L433 283.04L434.5 283.05L436 283.07L437.5 283.08L439 283.09L440.5 283.1L442 283.11L443.5 283.12L445 283.13L446.5 283.14L448 283.15L449.5 283.16L451 283.17L452.5 283.18L454 283.19L455.5 283.2L457 283.21L458.5 283.22L460 283.23L461.5 283.24L463 283.26L464.5 283.27L466 283.28L467.5 283.29L469 283.3L470.5 283.32L472 283.33L473.5 283.34L475 283.35L476.5 283.37L478 283.38L479.5 283.4L481 283.41L482.5 283.42L484 283.44L485.5 283.45L487 283.46L488.5 283.47L490 283.49L491.5 283.5L493 283.51L494.5 283.52L496 283.53L497.5 283.54L499 283.56L500.5 283.57L502 283.58L503.5 283.6L505 283.61L506.5 283.63L508 283.64L509.5 283.66L511 283.67L512.5 283.69L514 283.71L515.5 283.73L517 283.75L518.5 283.78L520 283.8L521.5 283.83L523 283.86L524.5 283.9L526 283.94L527.5 283.99L529 284.04L530.5 284.09L532 284.15L533.5 284.21L535 284.27L536.5 284.34L538 284.41L539.5 284.48L541 284.55L542.5 284.62L544 284.7L545.5 284.77L547 284.85L548.5 284.92L550 285L551.5 285.08L553 285.17L554.5 285.26L556 285.37L557.5 285.47L559 285.59L560.5 285.7L562 285.82L563.5 285.94L565 286.06L566.5 286.17L568 286.29L569.5 286.4L571 286.51L572.5 286.61L574 286.7L575.5 286.79L577 286.87L578.5 286.94L580 287L581.5 287.05L583 287.1L584.5 287.15L586 287.2L587.5 287.25L589 287.29L590.5 287.33L592 287.37L593.5 287.4L595 287.43L596.5 287.46L598 287.48L599.5 287.5L600 287.5" stroke="#000000"/>
<path d="M67 332.7L68.5 332.7L70 332.7L71.5 332.7L73 332.7L74.5 332.7L76 332.7L77.5 332.7L79 332.7L80.5 332.7L82 332.7L83.5 332.7L85 332.7L86.5 332.7L88 332.69L89.5 332.69L91 332.69L92.5 332.69L94 332.69L95.5 332.69L97 332.69L98.5 332.69L100 332.69L101.5 332.69L103 332.68L104.5 332.68L106 332.68L107.5 332.68L109 332.68L110.5 332.68L112 332.68L113.5 332.67L115 332.67L116.5 332.67L118 332.67L119.5 332.67L121 332.67L122.5 332.66L124 332.66L125.5 332.66L127 332.66L128.5 332.66L130 332.65L131.5 332.65L133 332.65L134.5 332.65L136 332.64L137.5 332.64L139 332.64L140.5 332.64L142 332.63L143.5 332.63L145 332.63L146.5 332.63L148 332.62L149.5 332.62L151 332.62L152.5 332.61L154 332.61L155.5 332.61L157 332.61L158.5 332.6L160 332.6L161.5 332.6L163 332.59L164.5 332.59L166 332.59L167.5 332.58L169 332.58L170.5 332.58L172 332.57L173.5 332.57L175 332.57L176.5 332.56L178 332.56L179.5 332.55L181 332.55L182.5 332.55L184 332.54L185.5 332.54L187 332.54L188.5 332.53L190 332.53L191.5 332.52L193 332.52L194.5 332.52L196 332.51L197.5 332.51L199 332.5L200.5 332.5L202 332.49L203.5 332.49L205 332.48L206.5 332.47L208 332.46L209.5 332.45L211 332.44L212.5 332.43L214 332.42L215.5 332.41L217 332.39L218.5 332.38L220 332.36L221.5 332.35L223 332.33L224.5 332.31L226 332.3L227.5 332.28L229 332.26L230.5 332.24L232 332.22L233.5 332.2L235 332.18L236.5 332.15L238 332.13L239.5 332.11L241 332.09L242.5 332.06L244 332.04L245.5 332.01L247 331.99L248.5 331.96L250 331.94L251.5 331.91L253 331.89L254.5 331.86L256 331.83L257.5 331.81L259 331.78L260.5 331.75L262 331.72L263.5 331.7L265 331.67L266.5 331.64L268 331.61L269.5 331.58L271 331.56L272.5 331.53L274 331.5L275.5 331.47L277 331.44L278.5 331.41L280 331.39L281.5 331.36L283 331.33L284.5 331.3L286 331.27L287.5 331.25L289 331.22L290.5 331.19L292 331.16L293.5 331.14L295 331.11L296.5 331.08L298 331.06L299.5 331.03L301 331L302.5 330.98L304 330.95L305.5 330.92L307 330.89L308.5 330.86L310 330.83L311.5 330.8L313 330.77L314.5 330.74L316 330.71L317.5 330.67L319 330.64L320.5 330.6L322 330.56L323.5 330.52L325 330.48L326.5 330.44L328 330.39L329.5 330.34L331 330.3L332.5 330.25L334 330.19L335.5 330.13L337 330.07L338.5 330L340 329.92L341.5 329.83L343 329.74L344.5 329.64L346 329.54L347.5 329.43L349 329.32L350.5 329.21L352 329.09L353.5 328.98L355 328.86L356.5 328.73L358 328.61L359.5 328.49L361 328.36L362.5 328.24L364 328.12L365.5 327.99L367 327.86L368.5 327.72L370 327.58L371.5 327.43L373 327.28L374.5 327.13L376 326.98L377.5 326.82L379 326.67L380.5 326.51L382 326.35L383.5 326.19L385 326.03L386.5 325.87L388 325.71L389.5 325.55L391 325.4L392.5 325.24L394 325.09L395.5 324.93L397 324.78L398.5 324.62L400 324.47L401.5 324.32L403 324.16L404.5 324.01L406 323.85L407.5 323.69L409 323.53L410.5 323.37L412 323.21L413.5 323.05L415 322.88L416.5 322.71L418 322.54L419.5 322.36L421 322.19L422.5 322L424 321.82L425.5 321.63L427 321.43L428.5 321.23L430 321.03L431.5 320.83L433 320.63L434.5 320.43L436 320.22L437.5 320.02L439 319.81L440.5 319.6L442 319.38L443.5 319.16L445 318.94L446.5 318.72L448 318.49L449.5 318.26L451 318.02L452.5 317.78L454 317.53L455.5 317.28L457 317.02L458.5 316.75L460 316.48L461.5 316.2L463 315.92L464.5 315.62L466 315.32L467.5 315.01L469 314.7L470.5 314.37L472 314.04L473.5 313.69L475 313.34L476.5 312.98L478 312.57L479.5 312.11L481 311.62L482.5 311.09L484 310.54L485.5 309.98L487 309.42L488.5 308.85L490 308.3L491.5 307.74L493 307.16L494.5 306.56L496 305.95L497.5 305.34L499 304.73L500.5 304.14L502 303.56L503.5 303.01L505 302.5L506.5 302.02L508 301.58L509.5 301.15L511 300.74L512.5 300.34L514 299.94L515.5 299.53L517 299.11L518.5 298.67L520 298.2L521.5 297.7L523 297.18L524.5 296.64L526 296.08L527.5 295.51L529 294.93L530.5 294.35L532 293.77L533.5 293.19L535 292.62L536.5 292.04L538 291.46L539.5 290.88L541 290.29L542.5 289.7L544 289.1L545.5 288.5L547 287.9L548 287.5" stroke="#DF536B"/>
<path d="M67 334.6L68.5 334.6L70 334.6L71.5 334.6L73 334.59L74.5 334.59L76 334.59L77.5 334.58L79 334.57L80.5 334.57L82 334.56L83.5 334.55L85 334.55L86.5 334.54L88 334.53L89.5 334.52L91 334.51L92.5 334.49L94 334.48L95.5 334.47L97 334.46L98.5 334.44L100 334.43L101.5 334.41L103 334.4L104.5 334.38L106 334.36L107.5 334.35L109 334.33L110.5 334.31L112 334.29L113.5 334.27L115 334.25L116.5 334.23L118 334.21L119.5 334.19L121 334.17L122.5 334.15L124 334.12L125.5 334.1L127 334.08L128.5 334.05L130 334.03L131.5 334.01L133 333.98L134.5 333.95L136 333.93L137.5 333.9L139 333.88L140.5 333.85L142 333.82L143.5 333.79L145 333.77L146.5 333.74L148 333.71L149.5 333.68L151 333.65L152.5 333.62L154 333.59L155.5 333.56L157 333.53L158.5 333.5L160 333.47L161.5 333.44L163 333.41L164.5 333.38L166 333.35L167.5 333.32L169 333.28L170.5 333.25L172 333.22L173.5 333.19L175 333.16L176.5 333.12L178 333.09L179.5 333.06L181 333.02L182.5 332.99L184 332.96L185.5 332.93L187 332.89L188.5 332.86L190 332.82L191.5 332.79L193 332.76L194.5 332.72L196 332.69L197.5 332.66L199 332.62L200.5 332.59L202 332.55L203.5 332.52L205 332.48L206.5 332.44L208 332.4L209.5 332.36L211 332.31L212.5 332.27L214 332.22L215.5 332.18L217 332.13L218.5 332.08L220 332.03L221.5 331.98L223 331.93L224.5 331.87L226 331.82L227.5 331.76L229 331.71L230.5 331.65L232 331.59L233.5 331.53L235 331.47L236.5 331.41L238 331.35L239.5 331.29L241 331.22L242.5 331.16L244 331.1L245.5 331.03L247 330.97L248.5 330.9L250 330.84L251.5 330.77L253 330.7L254.5 330.63L256 330.57L257.5 330.5L259 330.43L260.5 330.36L262 330.29L263.5 330.22L265 330.15L266.5 330.09L268 330.02L269.5 329.95L271 329.88L272.5 329.81L274 329.74L275.5 329.67L277 329.6L278.5 329.53L280 329.46L281.5 329.39L283 329.32L284.5 329.25L286 329.18L287.5 329.11L289 329.05L290.5 328.98L292 328.91L293.5 328.84L295 328.78L296.5 328.71L298 328.64L299.5 328.57L301 328.5L302.5 328.44L304 328.37L305.5 328.3L307 328.23L308.5 328.16L310 328.09L311.5 328.01L313 327.94L314.5 327.87L316 327.79L317.5 327.72L319 327.64L320.5 327.56L322 327.48L323.5 327.4L325 327.32L326.5 327.23L328 327.15L329.5 327.06L331 326.97L332.5 326.88L334 326.79L335.5 326.69L337 326.59L338.5 326.49L340 326.38L341.5 326.27L343 326.15L344.5 326.03L346 325.91L347.5 325.79L349 325.66L350.5 325.54L352 325.41L353.5 325.28L355 325.15L356.5 325.01L358 324.88L359.5 324.75L361 324.61L362.5 324.48L364 324.35L365.5 324.21L367 324.08L368.5 323.95L370 323.82L371.5 323.7L373 323.57L374.5 323.45L376 323.33L377.5 323.21L379 323.09L380.5 322.98L382 322.86L383.5 322.75L385 322.63L386.5 322.52L388 322.4L389.5 322.29L391 322.18L392.5 322.06L394 321.95L395.5 321.84L397 321.73L398.5 321.62L400 321.51L401.5 321.4L403 321.29L404.5 321.18L406 321.07L407.5 320.96L409 320.85L410.5 320.74L412 320.63L413.5 320.53L415 320.42L416.5 320.31L418 320.2L419.5 320.1L421 319.99L422.5 319.89L424 319.78L425.5 319.67L427 319.57L428.5 319.47L430 319.36L431.5 319.26L433 319.16L434.5 319.06L436 318.97L437.5 318.87L439 318.78L440.5 318.68L442 318.59L443.5 318.5L445 318.41L446.5 318.32L448 318.22L449.5 318.13L451 318.04L452.5 317.95L454 317.85L455.5 317.76L457 317.67L458.5 317.57L460 317.47L461.5 317.37L463 317.27L464.5 317.17L466 317.06L467.5 316.96L469 316.85L470.5 316.74L472 316.62L473.5 316.5L475 316.38L476.5 316.26L478 316.12L479.5 315.98L481 315.83L482.5 315.68L484 315.52L485.5 315.36L487 315.2L488.5 315.05L490 314.9L491.5 314.76L493 314.62L494.5 314.48L496 314.34L497.5 314.2L499 314.07L500.5 313.93L502 313.79L503.5 313.65L505 313.5L506.5 313.37L508 313.23L509.5 313.09L511 312.96L512.5 312.82L514 312.68L515.5 312.54L517 312.39L518.5 312.24L520 312.08L521.5 311.91L523 311.73L524.5 311.53L526 311.33L527.5 311.11L529 310.87L530.5 310.62L532 310.35L533.5 310.08L535 309.8L536.5 309.5L538 309.2L539 309" stroke="#61D04F"/>
<path d="M539 309L540.5 308.34L542 307.67L543.5 307.01L545 306.34L546.5 305.67L548 305L549.5 304.33L551 303.66L552.5 302.98L554 302.31L555.5 301.63L557 300.96L558.5 300.28L560 299.6" stroke="#61D04F"/>
<path d="M560 299.6L561.5 299.23L563 298.87L564.5 298.51L566 298.16L567.5 297.82L569 297.49L570.5 297.18L572 296.88L573.5 296.59L575 296.32L576.5 296.07L578 295.84L579.5 295.61L581 295.4L582.5 295.2L584 295L585.5 294.8L587 294.61L588.5 294.41L590 294.22L591.5 294.02L593 293.81L594.5 293.6L596 293.37L597.5 293.13L599 292.88L600.5 292.61L602 292.31L603.5 291.98L605 291.64L606.5 291.28L608 290.92L609.5 290.55L611 290.19L612.5 289.84L614 289.5L615.5 289.17L617 288.85L618.5 288.53L620 288.22L621.5 287.91L623 287.6L623.5 287.5" stroke="#61D04F"/>
<path d="M67 349.3L68.5 349.29L70 349.29L71.5 349.28L73 349.27L74.5 349.26L76 349.25L77.5 349.24L79 349.23L80.5 349.22L82 349.21L83.5 349.19L85 349.18L86.5 349.17L88 349.15L89.5 349.14L91 349.12L92.5 349.11L94 349.09L95.5 349.08L97 349.06L98.5 349.04L100 349.03L101.5 349.01L103 348.99L104.5 348.97L106 348.96L107.5 348.94L109 348.92L110.5 348.9L112 348.88L113.5 348.86L115 348.84L116.5 348.82L118 348.8L119.5 348.78L121 348.76L122.5 348.74L124 348.72L125.5 348.69L127 348.67L128.5 348.65L130 348.62L131.5 348.6L133 348.57L134.5 348.55L136 348.52L137.5 348.5L139 348.47L140.5 348.44L142 348.41L143.5 348.38L145 348.35L146.5 348.32L148 348.29L149.5 348.26L151 348.22L152.5 348.19L154 348.16L155.5 348.12L157 348.08L158.5 348.05L160 348.01L161.5 347.97L163 347.93L164.5 347.89L166 347.84L167.5 347.8L169 347.76L170.5 347.71L172 347.66L173.5 347.62L175 347.57L176.5 347.52L178 347.46L179.5 347.41L181 347.34L182.5 347.27L184 347.2L185.5 347.11L187 347.03L188.5 346.94L190 346.85L191.5 346.76L193 346.66L194.5 346.56L196 346.46L197.5 346.37L199 346.27L200.5 346.17L202 346.07L203.5 345.96L205 345.86L206.5 345.75L208 345.64L209.5 345.53L211 345.41L212.5 345.29L214 345.18L215.5 345.06L217 344.93L218.5 344.81L220 344.69L221.5 344.56L223 344.43L224.5 344.3L226 344.17L227.5 344.04L229 343.91L230.5 343.78L232 343.64L233.5 343.51L235 343.37L236.5 343.24L238 343.1L239.5 342.96L241 342.83L242.5 342.69L244 342.55L245.5 342.41L247 342.28L248.5 342.14L250 342L251.5 341.86L253 341.72L254.5 341.58L256 341.43L257.5 341.29L259 341.14L260.5 340.99L262 340.83L263.5 340.68L265 340.53L266.5 340.37L268 340.22L269.5 340.07L271 339.91L272.5 339.75L274 339.6L275.5 339.44L277 339.29L278.5 339.14L280 338.98L281.5 338.83L283 338.68L284.5 338.53L286 338.38L287.5 338.24L289 338.09L290.5 337.95L292 337.81L293.5 337.68L295 337.54L296.5 337.41L298 337.28L299.5 337.15L301 337.02L302.5 336.9L304 336.77L305.5 336.65L307 336.52L308.5 336.4L310 336.27L311.5 336.15L313 336.02L314.5 335.89L316 335.77L317.5 335.64L319 335.51L320.5 335.38L322 335.24L323.5 335.11L325 334.97L326.5 334.83L328 334.69L329.5 334.54L331 334.39L332.5 334.24L334 334.08L335.5 333.92L337 333.75L338.5 333.59L340 333.41L341.5 333.24L343 333.06L344.5 332.88L346 332.7L347.5 332.51L349 332.32L350.5 332.13L352 331.93L353.5 331.73L355 331.53L356.5 331.32L358 331.11L359.5 330.9L361 330.69L362.5 330.47L364 330.25L365.5 330.02L367 329.79L368.5 329.54L370 329.29L371.5 329.03L373 328.77L374.5 328.51L376 328.24L377.5 327.97L379 327.7L380.5 327.44L382 327.17L383.5 326.9L385 326.64L386.5 326.38L388 326.13L389.5 325.88L391 325.64L392.5 325.4L394 325.17L395.5 324.94L397 324.71L398.5 324.48L400 324.26L401.5 324.03L403 323.81L404.5 323.59L406 323.37L407.5 323.15L409 322.93L410.5 322.71L412 322.49L413.5 322.27L415 322.05L416.5 321.82L418 321.6L419.5 321.37L421 321.14L422.5 320.91L424 320.68L425.5 320.44L427 320.2L428.5 319.95L430 319.71L431.5 319.47L433 319.23L434.5 319L436 318.77L437.5 318.55L439 318.32L440.5 318.1L442 317.87L443.5 317.65L445 317.42L446.5 317.19L448 316.96L449.5 316.73L451 316.49L452.5 316.25L454 316L455.5 315.75L457 315.49L458.5 315.22L460 314.95L461.5 314.67L463 314.38L464.5 314.08L466 313.77L467.5 313.45L469 313.12L470.5 312.78L472 312.42L473.5 312.05L475 311.67L476.5 311.27L478 310.82L479.5 310.28L481 309.67L482.5 309.03L484 308.36L485.5 307.68L487 307.01L488.5 306.38L490 305.8L491.5 305.26L493 304.73L494.5 304.22L496 303.72L497.5 303.23L499 302.74L500.5 302.25L502 301.77L503.5 301.29L505 300.8L506.5 300.31L508 299.83L509.5 299.35L511 298.87L512.5 298.39L514 297.91L515.5 297.44L517 296.96L518.5 296.48L520 296L521.5 295.52L523 295.03L524.5 294.55L526 294.06L527.5 293.58L529 293.09L530.5 292.61L532 292.13L533.5 291.66L535 291.19L536.5 290.72L538 290.25L539.5 289.79L541 289.32L542.5 288.87L544 288.41L545.5 287.95L547 287.5" stroke="#2297E6"/>
<path d="M67 372.6L68.5 372.6L70 372.54L71.5 372.47L73 372.41L74.5 372.35L76 372.29L77.5 372.24L79 372.18L80.5 372.12L82 372.06L83.5 372L85 371.95L86.5 371.89L88 371.83L89.5 371.78L91 371.72L92.5 371.66L94 371.61L95.5 371.55L97 371.5L98.5 371.44L100 371.39L101.5 371.33L103 371.28L104.5 371.22L106 371.17L107.5 371.11L109 371.05L110.5 371L112 370.94L113.5 370.89L115 370.83L116.5 370.77L118 370.71L119.5 370.66L121 370.6L122.5 370.54L124 370.48L125.5 370.42L127 370.36L128.5 370.3L130 370.24L131.5 370.18L133 370.11L134.5 370.05L136 369.99L137.5 369.92L139 369.86L140.5 369.79L142 369.72L143.5 369.65L145 369.59L146.5 369.52L148 369.44L149.5 369.37L151 369.3L152.5 369.23L154 369.15L155.5 369.07L157 369L158.5 368.92L160 368.84L161.5 368.76L163 368.67L164.5 368.59L166 368.5L167.5 368.42L169 368.33L170.5 368.24L172 368.15L173.5 368.06L175 367.96L176.5 367.87L178 367.77L179.5 367.67L181 367.57L182.5 367.47L184 367.37L185.5 367.26L187 367.15L188.5 367.04L190 366.93L191.5 366.82L193 366.7L194.5 366.59L196 366.47L197.5 366.35L199 366.22L200.5 366.1L202 365.97L203.5 365.84L205 365.71L206.5 365.58L208 365.44L209.5 365.3L211 365.16L212.5 365.02L214 364.87L215.5 364.73L217 364.58L218.5 364.42L220 364.27L221.5 364.11L223 363.95L224.5 363.79L226 363.62L227.5 363.46L229 363.29L230.5 363.11L232 362.94L233.5 362.76L235 362.58L236.5 362.39L238 362.21L239.5 362.02L241 361.82L242.5 361.63L244 361.43L245.5 361.23L247 361.02L248.5 360.81L250 360.6L251.5 360.39L253 360.17L254.5 359.95L256 359.72L257.5 359.5L259 359.27L260.5 359.03L262 358.79L263.5 358.55L265 358.31L266.5 358.06L268 357.81L269.5 357.56L271 357.3L272.5 357.04L274 356.77L275.5 356.5L277 356.23L278.5 355.95L280 355.67L281.5 355.39L283 355.1L284.5 354.81L286 354.51L287.5 354.21L289 353.91L290.5 353.6L292 353.29L293.5 352.98L295 352.66L296.5 352.34L298 352.01L299.5 351.68L301 351.35L302.5 351.02L304 350.68L305.5 350.34L307 350L308.5 349.65L310 349.3L311.5 348.95L313 348.6L314.5 348.25L316 347.9L317.5 347.54L319 347.18L320.5 346.83L322 346.47L323.5 346.11L325 345.75L326.5 345.39L328 345.03L329.5 344.66L331 344.3L332.5 343.94L334 343.58L335.5 343.22L337 342.86L338.5 342.5L340 342.14L341.5 341.78L343 341.42L344.5 341.07L346 340.71L347.5 340.36L349 340.01L350.5 339.66L352 339.31L353.5 338.97L355 338.62L356.5 338.27L358 337.93L359.5 337.58L361 337.23L362.5 336.88L364 336.53L365.5 336.18L367 335.83L368.5 335.47L370 335.11L371.5 334.75L373 334.38L374.5 334.01L376 333.63L377.5 333.25L379 332.87L380.5 332.48L382 332.08L383.5 331.68L385 331.27L386.5 330.85L388 330.43L389.5 329.99L391 329.54L392.5 329.09L394 328.62L395.5 328.13L397 327.64L398.5 327.13L400 326.6L401.5 326.07L403 325.52L404.5 324.96L406 324.38L407.5 323.79L409 323.19L410.5 322.57L412 321.95L413.5 321.31L415 320.66L416.5 319.99L418 319.31L419.5 318.62L421 317.92L422.5 317.21L424 316.49L425.5 315.75L427 315L428.5 314.24L430 313.47L431.5 312.69L433 311.9L434.5 311.1L436 310.29L437.5 309.48L439 308.67L440.5 307.84L442 307.02L443.5 306.19L445 305.37L446.5 304.54L448 303.71L449.5 302.88L451 302.06L452.5 301.24L454 300.43L455.5 299.62L457 298.82L458.5 298.02L460 297.23L461.5 296.46L463 295.69L464.5 294.94L466 294.2L467.5 293.47L469 292.76L470.5 292.06L472 291.38L473.5 290.71L475 290.07L476.5 289.44L478 288.84L479.5 288.25L481 287.69" stroke="#CD0BBC"/>
<path d="M67 287.4L68.5 287.4L70 287.4L71.5 287.4L73 287.4L74.5 287.4L76 287.4L77.5 287.4L79 287.4L80.5 287.4L82 287.4L83.5 287.4L85 287.4L86.5 287.4L88 287.4L89.5 287.4L91 287.4L92.5 287.4L94 287.4L95.5 287.4L97 287.4L98.5 287.4L100 287.4L101.5 287.4L103 287.4L104.5 287.4L106 287.4L107.5 287.4L109 287.4L110.5 287.4L112 287.4L113.5 287.4L115 287.4L116.5 287.4L118 287.4L119.5 287.4L121 287.4L122.5 287.4L124 287.4L125.5 287.4L127 287.4L128.5 287.4L130 287.4L131.5 287.4L133 287.4L134.5 287.4L136 287.4L137.5 287.4L139 287.4L140.5 287.4L142 287.4L143.5 287.4L145 287.4L146.5 287.4L148 287.4L149.5 287.4L151 287.4L152.5 287.4L154 287.4L155.5 287.4L157 287.4L158.5 287.4L160 287.4L161.5 287.4L163 287.4L164.5 287.4L166 287.4L167.5 287.4L169 287.4L170.5 287.4L172 287.4L173.5 287.4L175 287.4L176.5 287.4L178 287.4L179.5 287.4L181 287.4L182.5 287.4L184 287.4L185.5 287.4L187 287.4L188.5 287.4L190 287.4L191.5 287.4L193 287.4L194.5 287.4L196 287.4L197.5 287.4L199 287.4L200.5 287.4L202 287.4L203.5 287.4L205 287.4L206.5 287.4L208 287.4L209.5 287.4L211 287.4L212.5 287.4L214 287.4L215.5 287.4L217 287.4L218.5 287.4L220 287.4L221.5 287.4L223 287.4L224.5 287.4L226 287.4L227.5 287.39L229 287.39L230.5 287.39L232 287.39L233.5 287.39L235 287.39L236.5 287.39L238 287.39L239.5 287.39L241 287.39L242.5 287.39L244 287.39L245.5 287.39L247 287.39L248.5 287.39L250 287.38L251.5 287.38L253 287.38L254.5 287.38L256 287.38L257.5 287.38L259 287.38L260.5 287.38L262 287.38L263.5 287.38L265 287.38L266.5 287.37L268 287.37L269.5 287.37L271 287.37L272.5 287.37L274 287.37L275.5 287.37L277 287.37L278.5 287.37L280 287.36L281.5 287.36L283 287.36L284.5 287.36L286 287.36L287.5 287.36L289 287.36L290.5 287.36L292 287.36L293.5 287.35L295 287.35L296.5 287.35L298 287.35L299.5 287.35L301 287.35L302.5 287.35L304 287.35L305.5 287.35L307 287.34L308.5 287.34L310 287.34L311.5 287.34L313 287.34L314.5 287.34L316 287.34L317.5 287.34L319 287.34L320.5 287.33L322 287.33L323.5 287.33L325 287.33L326.5 287.33L328 287.33L329.5 287.33L331 287.33L332.5 287.33L334 287.33L335.5 287.32L337 287.32L338.5 287.32L340 287.32L341.5 287.32L343 287.32L344.5 287.32L346 287.32L347.5 287.32L349 287.32L350.5 287.32L352 287.31L353.5 287.31L355 287.31L356.5 287.31L358 287.31L359.5 287.31L361 287.31L362.5 287.31L364 287.31L365.5 287.31L367 287.31L368.5 287.31L370 287.31L371.5 287.31L373 287.3L374.5 287.3L376 287.3L377.5 287.3L379 287.3L380.5 287.3L382 287.3L383.5 287.3L385 287.3L386.5 287.3L388 287.3L389.5 287.3L391 287.3L392.5 287.3L394 287.3L395.5 287.3L397 287.3L398.5 287.3L400 287.3L401.5 287.3L403 287.3L404.5 287.3L406 287.3L407.5 287.3L409 287.3L410.5 287.3L412 287.3L413.5 287.3L415 287.3L416.5 287.3L418 287.3L419.5 287.3L421 287.3L422.5 287.3L424 287.3L425.5 287.3L427 287.3L428.5 287.3L430 287.3L431.5 287.3L433 287.3L434.5 287.3L436 287.3L437.5 287.3L439 287.3L440.5 287.3L442 287.3L443.5 287.3L445 287.3L446.5 287.3L448 287.3L449.5 287.3L451 287.3L452.5 287.3L454 287.3L455.5 287.3L457 287.3L458.5 287.3L460 287.3L461.5 287.3L463 287.3L464.5 287.3L466 287.3L467.5 287.3L469 287.3L470.5 287.3L472 287.3L473.5 287.3L475 287.3L476.5 287.3L478 287.3L479.5 287.3L481 287.3L482.5 287.3L484 287.3L485.5 287.3L487 287.3L488.5 287.3L490 287.3L491.5 287.3L493 287.3L494.5 287.3L496 287.3L497.5 287.3L499 287.3L500.5 287.3L502 287.3L503.5 287.3L505 287.3L506.5 287.3L508 287.3L509.5 287.3L511 287.3L512.5 287.3L514 287.3L515.5 287.3L517 287.3L518.5 287.3L520 287.3L521.5 287.3L523 287.3L524.5 287.3L526 287.3L527.5 287.3L529 287.3L530.5 287.3L532 287.3L533.5 287.3L535 287.3L536.5 287.3L538 287.3L539.5 287.3L541 287.3L542.5 287.3L543 287.3" stroke="#CD0BBC"/>
<path d="M543 287.3L544.5 286.67L546 286L547.5 285.27L549 284.49L550.5 283.71L552 283L553.5 282.28L555 281.51L556.5 280.78L558 280.18L559.5 279.79L561 279.68L562.5 279.63L564 279.59L565.5 279.56L567 279.53L568.5 279.51L570 279.5L571.5 279.5L573 279.52L574.5 279.57L576 279.64L577.5 279.74L579 279.85L580.5 279.97L582 280.09L583.5 280.2L585 280.3L586.5 280.39L588 280.49L589.5 280.58L591 280.68L592.5 280.77L594 280.87L595.5 280.97L597 281.08L598.5 281.19L600 281.3L601.5 281.42L603 281.54L604.5 281.66L606 281.79L607.5 281.92L609 282.06L610.5 282.21L612 282.37L613.5 282.54L615 282.71L616.5 282.91L618 283.11L619.5 283.32L621 283.53L622.5 283.76L624 284L625.5 284.24L627 284.49L628.5 284.74L630 285L631.5 285.27L633 285.55L634.5 285.85L636 286.16L637.5 286.48L639 286.81L640.5 287.15L642 287.5" stroke="#CD0BBC"/>
<path d="M545 287.5L546.5 287.5L548 287.5L549.5 287.5L551 287.5L552.5 287.5L554 287.5L555.5 287.5L557 287.5L558.5 287.5L560 287.5L561.5 287.5L563 287.5L564.5 287.5L566 287.5L567.5 287.5L569 287.5L570.5 287.5L572 287.5L573.5 287.5L575 287.5L576.5 287.5L578 287.5L579.5 287.5L581 287.5L582.5 287.5L584 287.5L585.5 287.5L587 287.5L588.5 287.5L590 287.5L591.5 287.5L593 287.5L594.5 287.5L596 287.5L597.5 287.5L599 287.5L600.5 287.5L602 287.5L603.5 287.5L605 287.5L606.5 287.5L608 287.5L609.5 287.5L611 287.5L612.5 287.5L614 287.5L615.5 287.5L617 287.5L618.5 287.5L620 287.5L621.5 287.5L623 287.5L624.5 287.5L626 287.5L627.5 287.5L629 287.5L630.5 287.5L632 287.5L633.5 287.5L635 287.5L636.5 287.5L638 287.5L639.5 287.5L641 287.5L642.5 287.5L644 287.5L645.5 287.5L647 287.5L648.5 287.5L650 287.5L651.5 287.5L653 287.5L654.5 287.5L656 287.5L657.5 287.5L659 287.5" stroke="#101418"/>
<path d="M67 247.5L68.5 247.5L70 247.51L71.5 247.51L73 247.52L74.5 247.52L76 247.53L77.5 247.54L79 247.56L80.5 247.57L82 247.58L83.5 247.6L85 247.62L86.5 247.64L88 247.66L89.5 247.68L91 247.7L92.5 247.72L94 247.75L95.5 247.77L97 247.8L98.5 247.83L100 247.85L101.5 247.88L103 247.91L104.5 247.95L106 247.98L107.5 248.01L109 248.04L110.5 248.08L112 248.11L113.5 248.15L115 248.19L116.5 248.23L118 248.26L119.5 248.3L121 248.34L122.5 248.38L124 248.42L125.5 248.46L127 248.51L128.5 248.55L130 248.59L131.5 248.63L133 248.68L134.5 248.72L136 248.77L137.5 248.81L139 248.86L140.5 248.9L142 248.95L143.5 248.99L145 249.04L146.5 249.08L148 249.13L149.5 249.18L151 249.22L152.5 249.27L154 249.32L155.5 249.36L157 249.41L158.5 249.47L160 249.52L161.5 249.57L163 249.63L164.5 249.69L166 249.75L167.5 249.81L169 249.88L170.5 249.95L172 250.02L173.5 250.09L175 250.16L176.5 250.24L178 250.31L179.5 250.39L181 250.47L182.5 250.56L184 250.64L185.5 250.73L187 250.82L188.5 250.91L190 251.01L191.5 251.11L193 251.21L194.5 251.31L196 251.41L197.5 251.52L199 251.63L200.5 251.74L202 251.86L203.5 251.99L205 252.13L206.5 252.28L208 252.44L209.5 252.61L211 252.79L212.5 252.97L214 253.16L215.5 253.36L217 253.56L218.5 253.76L220 253.97L221.5 254.18L223 254.4L224.5 254.61L226 254.83L227.5 255.05L229 255.27L230.5 255.48L232 255.7L233.5 255.91L235 256.12L236.5 256.33L238 256.54L239.5 256.73L241 256.93L242.5 257.12L244 257.32L245.5 257.51L247 257.71L248.5 257.9L250 258.1L251.5 258.29L253 258.49L254.5 258.69L256 258.89L257.5 259.09L259 259.29L260.5 259.5L262 259.7L263.5 259.91L265 260.13L266.5 260.34L268 260.55L269.5 260.77L271 260.99L272.5 261.21L274 261.43L275.5 261.65L277 261.88L278.5 262.1L280 262.33L281.5 262.57L283 262.8L284.5 263.04L286 263.29L287.5 263.53L289 263.78L290.5 264.03L292 264.29L293.5 264.55L295 264.81L296.5 265.07L298 265.34L299.5 265.61L301 265.89L302.5 266.16L304 266.44L305.5 266.73L307 267.02L308.5 267.31L310 267.6L311.5 267.9L313 268.2L314.5 268.5L316 268.8L317.5 269.11L319 269.43L320.5 269.74L322 270.06L323.5 270.39L325 270.72L326.5 271.06L328 271.4L329.5 271.74L331 272.1L332.5 272.46L334 272.82L335.5 273.2L337 273.59L338.5 273.99L340 274.4L341.5 274.81L343 275.23L344.5 275.66L346 276.1L347.5 276.53L349 276.97L350.5 277.41L352 277.85L353.5 278.29L355 278.72L356.5 279.16L358 279.59L359.5 280.05L361 280.52L362.5 281.01L364 281.5L365.5 282L367 282.5L368.5 282.99L370 283.47L371.5 283.93L373 284.37L374.5 284.79L376 285.17L377.5 285.52L379 285.82L380.5 286.08L382 286.33L383.5 286.55L385 286.77L386.5 286.96L388 287.14L389.5 287.29L391 287.43L392 287.5" stroke="#2297E6"/>
<path d="M67 214.2L68.5 214.23L70 214.27L71.5 214.3L73 214.33L74.5 214.37L76 214.4L77.5 214.43L79 214.46L80.5 214.49L82 214.53L83.5 214.56L85 214.59L86.5 214.62L88 214.65L89.5 214.68L91 214.72L92.5 214.75L94 214.78L95.5 214.81L97 214.84L98.5 214.87L100 214.9L101.5 214.93L103 214.96L104.5 214.99L106 215.02L107.5 215.05L109 215.08L110.5 215.11L112 215.14L113.5 215.17L115 215.19L116.5 215.22L118 215.25L119.5 215.28L121 215.31L122.5 215.34L124 215.36L125.5 215.39L127 215.42L128.5 215.45L130 215.48L131.5 215.5L133 215.53L134.5 215.56L136 215.58L137.5 215.61L139 215.64L140.5 215.66L142 215.69L143.5 215.72L145 215.74L146.5 215.77L148 215.8L149.5 215.82L151 215.85L152.5 215.87L154 215.9L155.5 215.92L157 215.95L158.5 215.97L160 216L161.5 216.02L163 216.05L164.5 216.07L166 216.09L167.5 216.11L169 216.14L170.5 216.16L172 216.18L173.5 216.2L175 216.22L176.5 216.24L178 216.25L179.5 216.27L181 216.29L182.5 216.31L184 216.33L185.5 216.35L187 216.37L188.5 216.39L190 216.41L191.5 216.43L193 216.46L194.5 216.48L196 216.5L197.5 216.53L199 216.55L200.5 216.58L202 216.61L203.5 216.64L205 216.66L206.5 216.7L208 216.73L209.5 216.76L211 216.8L212.5 216.84L214 216.88L215.5 216.92L217 216.96L218.5 217.01L220 217.05L221.5 217.1L223 217.15L224.5 217.2L226 217.26L227.5 217.31L229 217.36L230.5 217.42L232 217.48L233.5 217.54L235 217.6L236.5 217.66L238 217.72L239.5 217.78L241 217.84L242.5 217.91L244 217.97L245.5 218.04L247 218.11L248.5 218.17L250 218.24L251.5 218.31L253 218.38L254.5 218.45L256 218.52L257.5 218.59L259 218.67L260.5 218.74L262 218.82L263.5 218.9L265 218.99L266.5 219.07L268 219.16L269.5 219.24L271 219.33L272.5 219.42L274 219.52L275.5 219.61L277 219.71L278.5 219.8L280 219.9L281.5 220L283 220.1L284.5 220.2L286 220.3L287.5 220.41L289 220.51L290.5 220.61L292 220.72L293.5 220.83L295 220.94L296.5 221.04L298 221.15L299.5 221.26L301 221.37L302.5 221.49L304 221.6L305.5 221.72L307 221.83L308.5 221.95L310 222.07L311.5 222.19L313 222.32L314.5 222.45L316 222.58L317.5 222.71L319 222.84L320.5 222.98L322 223.11L323.5 223.25L325 223.4L326.5 223.54L328 223.69L329.5 223.84L331 224L332.5 224.15L334 224.31L335.5 224.47L337 224.64L338.5 224.8L340 224.97L341.5 225.15L343 225.32L344.5 225.5L346 225.69L347.5 225.87L349 226.07L350.5 226.26L352 226.46L353.5 226.67L355 226.88L356.5 227.1L358 227.32L359.5 227.55L361 227.78L362.5 228.02L364 228.27L365.5 228.52L367 228.79L368.5 229.06L370 229.35L371.5 229.64L373 229.95L374.5 230.27L376 230.59L377.5 230.92L379 231.27L380.5 231.61L382 231.97L383.5 232.34L385 232.71L386.5 233.09L388 233.47L389.5 233.86L391 234.26L392.5 234.66L394 235.07L395.5 235.48L397 235.9L398.5 236.32L400 236.76L401.5 237.21L403 237.67L404.5 238.15L406 238.63L407.5 239.12L409 239.62L410.5 240.14L412 240.66L413.5 241.19L415 241.72L416.5 242.27L418 242.82L419.5 243.39L421 243.96L422.5 244.53L424 245.11L425.5 245.7L427 246.3L428.5 246.9L430 247.51L431.5 248.15L433 248.8L434.5 249.47L436 250.16L437.5 250.85L439 251.57L440.5 252.29L442 253.02L443.5 253.76L445 254.5L446.5 255.26L448 256.03L449.5 256.82L451 257.62L452.5 258.43L454 259.25L455.5 260.08L457 260.92L458.5 261.76L460 262.6L461.5 263.45L463 264.31L464.5 265.17L466 266.05L467.5 266.93L469 267.81L470.5 268.7L472 269.6L473.5 270.49L475 271.4L476.5 272.3L478 273.2L479.5 274.13L481 275.07L482.5 276.01L484 276.93L485.5 277.83L487 278.7L488.5 279.56L490 280.4L491.5 281.21L493 282L494.5 282.76L496 283.48L497.5 284.17L499 284.85L500.5 285.5L502 286.13L503.5 286.73L505 287.3" stroke="#61D04F"/>
<path d="M67 203.9L68.5 203.95L70 203.99L71.5 204.04L73 204.08L74.5 204.13L76 204.17L77.5 204.22L79 204.26L80.5 204.31L82 204.35L83.5 204.4L85 204.44L86.5 204.49L88 204.53L89.5 204.58L91 204.63L92.5 204.67L94 204.72L95.5 204.76L97 204.81L98.5 204.85L100 204.9L101.5 204.94L103 204.99L104.5 205.03L106 205.08L107.5 205.12L109 205.17L110.5 205.21L112 205.26L113.5 205.3L115 205.35L116.5 205.39L118 205.44L119.5 205.48L121 205.53L122.5 205.57L124 205.62L125.5 205.66L127 205.71L128.5 205.75L130 205.8L131.5 205.84L133 205.89L134.5 205.93L136 205.98L137.5 206.02L139 206.07L140.5 206.11L142 206.16L143.5 206.2L145 206.25L146.5 206.29L148 206.34L149.5 206.38L151 206.43L152.5 206.48L154 206.52L155.5 206.57L157 206.61L158.5 206.66L160 206.7L161.5 206.74L163 206.79L164.5 206.83L166 206.87L167.5 206.91L169 206.95L170.5 206.99L172 207.04L173.5 207.08L175 207.12L176.5 207.17L178 207.21L179.5 207.26L181 207.31L182.5 207.37L184 207.42L185.5 207.48L187 207.54L188.5 207.61L190 207.67L191.5 207.74L193 207.81L194.5 207.89L196 207.96L197.5 208.04L199 208.12L200.5 208.21L202 208.3L203.5 208.39L205 208.49L206.5 208.59L208 208.69L209.5 208.8L211 208.93L212.5 209.06L214 209.19L215.5 209.33L217 209.48L218.5 209.63L220 209.79L221.5 209.95L223 210.11L224.5 210.28L226 210.45L227.5 210.62L229 210.79L230.5 210.96L232 211.14L233.5 211.33L235 211.54L236.5 211.75L238 211.97L239.5 212.19L241 212.41L242.5 212.63L244 212.85L245.5 213.06L247 213.27L248.5 213.46L250 213.64L251.5 213.81L253 213.95L254.5 214.09L256 214.22L257.5 214.34L259 214.45L260.5 214.56L262 214.65L263.5 214.74L265 214.8L266.5 214.85L268 214.9L269.5 214.94L271 214.97L272.5 215.01L274 215.04L275.5 215.07L277 215.1L278.5 215.14L280 215.17L281.5 215.2L283 215.24L284.5 215.27L286 215.3L287.5 215.33L289 215.36L290.5 215.39L292 215.42L293.5 215.45L295 215.48L296.5 215.52L298 215.55L299.5 215.59L301 215.63L302.5 215.66L304 215.7L305.5 215.74L307 215.78L308.5 215.82L310 215.85L311.5 215.89L313 215.93L314.5 215.97L316 216.01L317.5 216.05L319 216.09L320.5 216.14L322 216.18L323.5 216.22L325 216.26L326.5 216.31L328 216.35L329.5 216.4L331 216.44L332.5 216.49L334 216.54L335.5 216.58L337 216.63L338.5 216.68L340 216.73L341.5 216.78L343 216.84L344.5 216.89L346 216.95L347.5 217L349 217.06L350.5 217.12L352 217.17L353.5 217.23L355 217.3L356.5 217.36L358 217.42L359.5 217.49L361 217.55L362.5 217.62L364 217.69L365.5 217.76L367 217.84L368.5 217.92L370 218.01L371.5 218.1L373 218.2L374.5 218.3L376 218.4L377.5 218.51L379 218.62L380.5 218.73L382 218.85L383.5 218.97L385 219.08L386.5 219.2L388 219.33L389.5 219.45L391 219.57L392.5 219.69L394 219.82L395.5 219.94L397 220.06L398.5 220.18L400 220.3L401.5 220.42L403 220.54L404.5 220.65L406 220.77L407.5 220.89L409 221.01L410.5 221.13L412 221.26L413.5 221.38L415 221.51L416.5 221.64L418 221.78L419.5 221.92L421 222.06L422.5 222.21L424 222.36L425.5 222.52L427 222.69L428.5 222.85L430 223.03L431.5 223.21L433 223.39L434.5 223.58L436 223.78L437.5 223.98L439 224.18L440.5 224.39L442 224.6L443.5 224.82L445 225.04L446.5 225.27L448 225.5L449.5 225.75L451 226L452.5 226.26L454 226.53L455.5 226.8L457 227.08L458.5 227.37L460 227.66L461.5 227.96L463 228.26L464.5 228.56L466 228.86L467.5 229.17L469 229.48L470.5 229.78L472 230.09L473.5 230.4L475 230.72L476.5 231.04L478 231.37L479.5 231.69L481 232.03L482.5 232.36L484 232.7L485.5 233.04L487 233.38L488.5 233.73L490 234.08L491.5 234.43L493 234.78L494.5 235.14L496 235.5L497.5 235.86L499 236.22L500.5 236.59L502 236.97L503.5 237.34L505 237.72L506.5 238.1L508 238.48L509.5 238.87L511 239.26L512.5 239.66L514 240.05L515.5 240.45L517 240.85L518.5 241.26L520 241.67L521.5 242.08L523 242.49L524.5 242.91L526 243.33L527.5 243.75L529 244.18L530.5 244.61L532 245.05L533.5 245.49L535 245.93L536.5 246.38L538 246.83L539.5 247.29L541 247.75L542.5 248.21L544 248.69L545.5 249.17L547 249.66L548.5 250.15L550 250.65L551.5 251.16L553 251.67L554.5 252.18L556 252.69L557.5 253.21L559 253.73L560.5 254.26L562 254.8L563.5 255.34L565 255.9L566.5 256.48L568 257.06L569.5 257.67L571 258.28L572.5 258.91L574 259.54L575.5 260.19L577 260.84L578.5 261.5L580 262.17L581.5 262.84L583 263.52L584.5 264.2L586 264.9L587.5 265.61L589 266.33L590.5 267.06L592 267.8L593.5 268.55L595 269.3L596.5 270.06L598 270.82L599.5 271.6L601 272.41L602.5 273.25L604 274.14L605.5 275.07L607 276.09L608.5 277.23L610 278.44L611.5 279.65L613 280.83L614.5 281.93L616 283.01L617.5 284.08L619 285.13L620.5 286.16L622 287.17L622.5 287.5" stroke="#CD0BBC"/>
<path d="M67 159.3L68.5 159.3L70 159.3L71.5 159.3L73 159.3L74.5 159.33L76 159.38L77.5 159.42L79 159.46L80.5 159.5L82 159.54L83.5 159.58L85 159.62L86.5 159.66L88 159.7L89.5 159.74L91 159.78L92.5 159.82L94 159.86L95.5 159.9L97 159.93L98.5 159.97L100 160.01L101.5 160.05L103 160.08L104.5 160.12L106 160.15L107.5 160.19L109 160.23L110.5 160.26L112 160.3L113.5 160.33L115 160.37L116.5 160.4L118 160.44L119.5 160.47L121 160.51L122.5 160.54L124 160.58L125.5 160.61L127 160.65L128.5 160.68L130 160.72L131.5 160.75L133 160.79L134.5 160.82L136 160.86L137.5 160.89L139 160.93L140.5 160.96L142 161L143.5 161.03L145 161.07L146.5 161.1L148 161.14L149.5 161.18L151 161.21L152.5 161.25L154 161.29L155.5 161.33L157 161.36L158.5 161.4L160 161.44L161.5 161.48L163 161.52L164.5 161.56L166 161.6L167.5 161.64L169 161.68L170.5 161.72L172 161.76L173.5 161.8L175 161.85L176.5 161.89L178 161.93L179.5 161.98L181 162.02L182.5 162.07L184 162.11L185.5 162.16L187 162.21L188.5 162.25L190 162.3L191.5 162.35L193 162.4L194.5 162.45L196 162.5L197.5 162.55L199 162.6L200.5 162.66L202 162.71L203.5 162.76L205 162.82L206.5 162.87L208 162.93L209.5 162.99L211 163.05L212.5 163.11L214 163.17L215.5 163.23L217 163.29L218.5 163.35L220 163.42L221.5 163.48L223 163.55L224.5 163.61L226 163.68L227.5 163.75L229 163.82L230.5 163.89L232 163.96L233.5 164.03L235 164.11L236.5 164.18L238 164.26L239.5 164.33L241 164.41L242.5 164.49L244 164.57L245.5 164.65L247 164.73L248.5 164.82L250 164.9L251.5 164.99L253 165.08L254.5 165.17L256 165.26L257.5 165.35L259 165.44L260.5 165.53L262 165.63L263.5 165.73L265 165.83L266.5 165.92L268 166.03L269.5 166.13L271 166.23L272.5 166.34L274 166.44L275.5 166.55L277 166.66L278.5 166.77L280 166.88L281.5 167L283 167.11L284.5 167.23L286 167.35L287.5 167.47L289 167.59L290.5 167.72L292 167.84L293.5 167.97L295 168.1L296.5 168.23L298 168.36L299.5 168.49L301 168.63L302.5 168.76L304 168.9L305.5 169.04L307 169.18L308.5 169.33L310 169.47L311.5 169.62L313 169.77L314.5 169.92L316 170.08L317.5 170.23L319 170.39L320.5 170.55L322 170.71L323.5 170.87L325 171.04L326.5 171.2L328 171.37L329.5 171.54L331 171.72L332.5 171.89L334 172.07L335.5 172.25L337 172.43L338.5 172.61L340 172.79L341.5 172.98L343 173.17L344.5 173.36L346 173.56L347.5 173.75L349 173.95L350.5 174.15L352 174.35L353.5 174.56L355 174.77L356.5 174.97L358 175.19L359.5 175.4L361 175.62L362.5 175.83L364 176.06L365.5 176.28L367 176.5L368.5 176.73L370 176.96L371.5 177.2L373 177.43L374.5 177.67L376 177.91L377.5 178.15L379 178.4L380.5 178.64L382 178.89L383.5 179.15L385 179.4L386.5 179.66L388 179.92L389.5 180.18L391 180.45L392.5 180.72L394 180.99L395.5 181.26L397 181.54L398.5 181.82L400 182.1L401.5 182.38L403 182.67L404.5 182.96L406 183.25L407.5 183.55L409 183.84L410.5 184.15L412 184.45L413.5 184.76L415 185.06L416.5 185.38L418 185.69L419.5 186.01L421 186.33L422.5 186.65L424 186.98L425.5 187.31L427 187.64L428.5 187.98L430 188.32L431.5 188.66L433 189L434.5 189.35L436 189.7L437.5 190.06L439 190.41L440.5 190.77L442 191.14L443.5 191.5L445 191.87L446.5 192.24L448 192.62L449.5 193L451 193.38L452.5 193.77L454 194.16L455.5 194.55L457 194.94L458.5 195.34L460 195.75L461.5 196.16L463 196.57L464.5 196.99L466 197.41L467.5 197.83L469 198.26L470.5 198.7L472 199.14L473.5 199.58L475 200.04L476.5 200.49L478 200.95L479.5 201.42L481 201.9L482.5 202.38L484 202.86L485.5 203.35L487 203.85L488.5 204.36L490 204.87L491.5 205.39L493 205.91L494.5 206.44L496 206.98L497.5 207.53L499 208.09L500.5 208.65L502 209.22L503.5 209.8L505 210.38L506.5 210.98L508 211.58L509.5 212.19L511 212.81L512.5 213.44L514 214.07L515.5 214.72L517 215.37L518.5 216.04L520 216.71L521.5 217.39L523 218.09L524.5 218.79L526 219.5L527.5 220.22L529 220.95L530.5 221.7L532 222.45L533.5 223.21L535 223.99L536.5 224.77L538 225.57L539.5 226.38L541 227.2L542.5 228.03L544 228.87L545.5 229.72L547 230.59L548.5 231.46L550 232.35L551.5 233.25L553 234.17L554.5 235.09L556 236.03L557.5 236.98L559 237.95L560.5 238.92L562 239.91L563.5 240.92L565 241.93L566.5 242.96L568 244.01L569.5 245.07L571 246.14L572.5 247.22L574 248.32L575.5 249.44L577 250.57L578.5 251.71L580 252.87L581.5 254.04L583 255.23L584.5 256.43L586 257.64L587.5 258.86L589 260.09L590.5 261.33L592 262.57L593.5 263.82L595 265.08L596.5 266.34L598 267.6L599.5 268.87L601 270.14L602.5 271.41L604 272.67L605.5 273.94L607 275.2L608.5 276.46L610 277.71L611.5 278.96L613 280.2L614.5 281.43L616 282.65L617.5 283.87L619 285.07L620.5 286.26L622 287.43L623.5 287.6L624 287.6" stroke="#000000"/>
<path d="M67 35.22L68.5 35.25L70 35.29L71.5 35.32L73 35.35L74.5 35.39L76 35.42L77.5 35.46L79 35.49L80.5 35.53L82 35.56L83.5 35.6L85 35.64L86.5 35.67L88 35.71L89.5 35.75L91 35.79L92.5 35.82L94 35.86L95.5 35.9L97 35.94L98.5 35.98L100 36.02L101.5 36.07L103 36.11L104.5 36.15L106 36.19L107.5 36.24L109 36.28L110.5 36.32L112 36.37L113.5 36.41L115 36.46L116.5 36.51L118 36.55L119.5 36.6L121 36.65L122.5 36.7L124 36.75L125.5 36.8L127 36.85L128.5 36.9L130 36.95L131.5 37L133 37.06L134.5 37.11L136 37.16L137.5 37.22L139 37.28L140.5 37.33L142 37.39L143.5 37.45L145 37.5L146.5 37.56L148 37.62L149.5 37.68L151 37.75L152.5 37.81L154 37.87L155.5 37.93L157 38L158.5 38.06L160 38.13L161.5 38.19L163 38.26L164.5 38.33L166 38.4L167.5 38.47L169 38.54L170.5 38.61L172 38.68L173.5 38.76L175 38.83L176.5 38.9L178 38.98L179.5 39.06L181 39.13L182.5 39.21L184 39.29L185.5 39.37L187 39.45L188.5 39.53L190 39.61L191.5 39.7L193 39.78L194.5 39.87L196 39.95L197.5 40.04L199 40.13L200.5 40.22L202 40.31L203.5 40.4L205 40.49L206.5 40.59L208 40.68L209.5 40.78L211 40.87L212.5 40.97L214 41.07L215.5 41.17L217 41.27L218.5 41.37L220 41.47L221.5 41.58L223 41.68L224.5 41.79L226 41.89L227.5 42L229 42.11L230.5 42.22L232 42.33L233.5 42.44L235 42.56L236.5 42.67L238 42.79L239.5 42.91L241 43.02L242.5 43.14L244 43.26L245.5 43.39L247 43.51L248.5 43.63L250 43.76L251.5 43.88L253 44.01L254.5 44.14L256 44.27L257.5 44.4L259 44.54L260.5 44.67L262 44.81L263.5 44.94L265 45.08L266.5 45.22L268 45.36L269.5 45.5L271 45.65L272.5 45.79L274 45.94L275.5 46.08L277 46.23L278.5 46.38L280 46.53L281.5 46.69L283 46.84L284.5 47L286 47.16L287.5 47.32L289 47.48L290.5 47.64L292 47.81L293.5 47.97L295 48.14L296.5 48.31L298 48.49L299.5 48.67L301 48.84L302.5 49.03L304 49.21L305.5 49.4L307 49.59L308.5 49.78L310 49.97L311.5 50.17L313 50.37L314.5 50.58L316 50.79L317.5 51L319 51.21L320.5 51.43L322 51.65L323.5 51.88L325 52.1L326.5 52.34L328 52.57L329.5 52.81L331 53.06L332.5 53.31L334 53.56L335.5 53.81L337 54.07L338.5 54.34L340 54.61L341.5 54.88L343 55.16L344.5 55.44L346 55.73L347.5 56.03L349 56.32L350.5 56.63L352 56.93L353.5 57.25L355 57.56L356.5 57.89L358 58.21L359.5 58.55L361 58.89L362.5 59.23L364 59.58L365.5 59.94L367 60.3L368.5 60.66L370 61.03L371.5 61.4L373 61.78L374.5 62.17L376 62.55L377.5 62.95L379 63.34L380.5 63.74L382 64.15L383.5 64.56L385 64.97L386.5 65.39L388 65.81L389.5 66.24L391 66.67L392.5 67.1L394 67.53L395.5 67.97L397 68.42L398.5 68.86L400 69.31L401.5 69.77L403 70.22L404.5 70.68L406 71.14L407.5 71.61L409 72.07L410.5 72.54L412 73.02L413.5 73.49L415 73.97L416.5 74.45L418 74.93L419.5 75.41L421 75.9L422.5 76.39L424 76.88L425.5 77.37L427 77.87L428.5 78.37L430 78.88L431.5 79.39L433 79.91L434.5 80.43L436 80.96L437.5 81.5L439 82.04L440.5 82.59L442 83.15L443.5 83.72L445 84.3L446.5 84.88L448 85.48L449.5 86.09L451 86.71L452.5 87.33L454 87.97L455.5 88.62L457 89.28L458.5 89.95L460 90.63L461.5 91.33L463 92.03L464.5 92.74L466 93.46L467.5 94.19L469 94.93L470.5 95.68L472 96.45L473.5 97.22L475 98L476.5 98.79L478 99.59L479.5 100.4L481 101.21L482.5 102.04L484 102.88L485.5 103.72L487 104.58L488.5 105.44L490 106.32L491.5 107.2L493 108.09L494.5 108.99L496 109.9L497.5 110.81L499 111.74L500.5 112.67L502 113.62L503.5 114.57L505 115.53L506.5 116.49L508 117.47L509.5 118.45L511 119.44L512.5 120.45L514 121.46L515.5 122.47L517 123.5L518.5 124.54L520 125.59L521.5 126.64L523 127.71L524.5 128.78L526 129.87L527.5 130.96L529 132.07L530.5 133.18L532 134.31L533.5 135.45L535 136.59L536.5 137.75L538 138.92L539.5 140.1L541 141.29L542.5 142.49L544 143.71L545.5 144.93L547 146.17L548.5 147.42L550 148.68L551.5 149.96L553 151.24L554.5 152.54L556 153.85L557.5 155.17L559 156.51L560.5 157.86L562 159.22L563.5 160.6L565 161.99L566.5 163.39L568 164.8L569.5 166.23L571 167.68L572.5 169.14L574 170.61L575.5 172.09L577 173.59L578.5 175.11L580 176.64L581.5 178.18L583 179.74L584.5 181.32L586 182.91L587.5 184.51L589 186.13L590.5 187.77L592 189.42L593.5 191.09L595 192.78L596.5 194.48L598 196.19L599.5 197.92L601 199.67L602.5 201.44L604 203.22L605.5 205.02L607 206.84L608.5 208.68L610 210.53L611.5 212.4L613 214.28L614.5 216.19L616 218.11L617.5 220.05L619 222.01L620.5 224L622 226.01L623.5 228.04L625 230.1L626.5 232.18L628 234.3L629.5 236.45L631 238.63L632.5 240.84L634 243.09L635.5 245.38L637 247.7L638.5 250.07L640 252.47L641.5 254.92L643 257.41L644.5 259.95L646 262.54L647.5 265.17L649 267.86L650.5 270.59L652 273.38L653.5 276.23L655 279.13L656.5 282.09L658 285.11L658.8 286.74" stroke="#DF536B"/>
</g>
<line x1="505.4" y1="21.6" x2="505.4" y2="386.3" stroke="#262626" stroke-width="1.4" stroke-dasharray="4.5 5.365" stroke-dashoffset="-5.4"/>
<line x1="614.9" y1="21.6" x2="614.9" y2="386.3" stroke="#262626" stroke-width="1.4" stroke-dasharray="4.5 5.365" stroke-dashoffset="-5.4"/>
<line x1="44.1" y1="21.6" x2="682.5" y2="21.6" stroke="#404040" stroke-width="1.2" stroke-linecap="square"/>
<line x1="44.1" y1="386.3" x2="682.5" y2="386.3" stroke="#666666" stroke-width="1.2" stroke-linecap="square"/>
<line x1="44.1" y1="21.6" x2="44.1" y2="386.3" stroke="#a0a0a0" stroke-width="1.8" stroke-linecap="square"/>
<line x1="682.5" y1="21.6" x2="682.5" y2="386.3" stroke="#808080" stroke-width="1.2" stroke-linecap="square"/>
<line x1="140.9" y1="386.3" x2="140.9" y2="391.9" stroke="#555555" stroke-width="1.1"/>
<text x="140.9" y="407.3" text-anchor="middle" font-size="14.2">&#8722;7</text>
<line x1="258.52" y1="386.3" x2="258.52" y2="391.9" stroke="#555555" stroke-width="1.1"/>
<text x="258.52" y="407.3" text-anchor="middle" font-size="14.2">&#8722;6</text>
<line x1="376.14" y1="386.3" x2="376.14" y2="391.9" stroke="#555555" stroke-width="1.1"/>
<text x="376.14" y="407.3" text-anchor="middle" font-size="14.2">&#8722;5</text>
<line x1="493.76" y1="386.3" x2="493.76" y2="391.9" stroke="#555555" stroke-width="1.1"/>
<text x="493.76" y="407.3" text-anchor="middle" font-size="14.2">&#8722;4</text>
<line x1="611.38" y1="386.3" x2="611.38" y2="391.9" stroke="#555555" stroke-width="1.1"/>
<text x="611.38" y="407.3" text-anchor="middle" font-size="14.2">&#8722;3</text>
<line x1="140.9" y1="17.6" x2="140.9" y2="21.6" stroke="#555555" stroke-width="1.1"/>
<text x="140.9" y="7.6" text-anchor="middle" font-size="10.4">22</text>
<line x1="258.52" y1="17.6" x2="258.52" y2="21.6" stroke="#555555" stroke-width="1.1"/>
<text x="258.52" y="7.6" text-anchor="middle" font-size="10.4">24</text>
<line x1="376.14" y1="17.6" x2="376.14" y2="21.6" stroke="#555555" stroke-width="1.1"/>
<text x="376.14" y="7.6" text-anchor="middle" font-size="10.4">17</text>
<line x1="493.76" y1="17.6" x2="493.76" y2="21.6" stroke="#555555" stroke-width="1.1"/>
<text x="493.76" y="7.6" text-anchor="middle" font-size="10.4">10</text>
<line x1="611.38" y1="17.6" x2="611.38" y2="21.6" stroke="#555555" stroke-width="1.1"/>
<text x="611.38" y="7.6" text-anchor="middle" font-size="10.4">6</text>
<line x1="38.3" y1="54.2" x2="44.1" y2="54.2" stroke="#555555" stroke-width="1.1"/>
<text class="r" transform="translate(30.3 54.2) rotate(-90)" text-anchor="middle" font-size="14.8">1.5</text>
<line x1="38.3" y1="132" x2="44.1" y2="132" stroke="#555555" stroke-width="1.1"/>
<text class="r" transform="translate(30.3 132) rotate(-90)" text-anchor="middle" font-size="14.8">1.0</text>
<line x1="38.3" y1="209.8" x2="44.1" y2="209.8" stroke="#555555" stroke-width="1.1"/>
<text class="r" transform="translate(30.3 209.8) rotate(-90)" text-anchor="middle" font-size="14.8">0.5</text>
<line x1="38.3" y1="287.6" x2="44.1" y2="287.6" stroke="#555555" stroke-width="1.1"/>
<text class="r" transform="translate(30.3 287.6) rotate(-90)" text-anchor="middle" font-size="14.8">0.0</text>
<line x1="38.3" y1="365.4" x2="44.1" y2="365.4" stroke="#555555" stroke-width="1.1"/>
<text class="r" transform="translate(30.3 365.4) rotate(-90)" text-anchor="middle" font-size="14.8">&#8722;0.5</text>
<text x="362.8" y="431.3" text-anchor="middle" font-size="14.4">Log Lambda</text>
<text class="r" transform="translate(11.8 203.6) rotate(-90)" text-anchor="middle" font-size="14.6">Coefficients</text>
<g stroke="#c6c6c6" stroke-width="1" fill="none">
<path d="M69.4 506.7V730.7M63.5 506.7H75.3M63.5 730.7H75.3M77.39 506.67V730.73M71.49 506.67H83.29M71.49 730.73H83.29M85.38 507.54V731.66M79.48 507.54H91.28M79.48 731.66H91.28M93.36 508.01V732.19M87.46 508.01H99.26M87.46 732.19H99.26M101.35 508.28V732.52M95.45 508.28H107.25M95.45 732.52H107.25M109.34 508.85V733.15M103.44 508.85H115.24M103.44 733.15H115.24M117.33 509.42V733.78M111.43 509.42H123.23M111.43 733.78H123.23M125.32 509.98V734.42M119.42 509.98H131.22M119.42 734.42H131.22M133.3 511.35V735.85M127.4 511.35H139.2M127.4 735.85H139.2M141.29 512.82V737.38M135.39 512.82H147.19M135.39 737.38H147.19M149.28 513.69V738.31M143.38 513.69H155.18M143.38 738.31H155.18M157.27 514.86V739.54M151.37 514.86H163.17M151.37 739.54H163.17M165.26 515.93V740.67M159.36 515.93H171.16M159.36 740.67H171.16M173.24 516.8V741.6M167.34 516.8H179.14M167.34 741.6H179.14M181.23 517.57V742.03M175.33 517.57H187.13M175.33 742.03H187.13M189.22 518.94V743.06M183.32 518.94H195.12M183.32 743.06H195.12M197.21 520.21V743.99M191.31 520.21H203.11M191.31 743.99H203.11M205.2 521.59V745.01M199.3 521.59H211.1M199.3 745.01H211.1M213.18 522.66V745.74M207.28 522.66H219.08M207.28 745.74H219.08M221.17 523.93V746.67M215.27 523.93H227.07M215.27 746.67H227.07M229.16 525.3V747.7M223.26 525.3H235.06M223.26 747.7H235.06M237.15 526.67V748.13M231.25 526.67H243.05M231.25 748.13H243.05M245.14 527.93V748.47M239.24 527.93H251.04M239.24 748.47H251.04M253.12 530V749.6M247.22 530H259.02M247.22 749.6H259.02M261.11 531.66V750.94M255.21 531.66H267.01M255.21 750.94H267.01M269.1 533.31V752.29M263.2 533.31H275M263.2 752.29H275M277.09 535.17V753.83M271.19 535.17H282.99M271.19 753.83H282.99M285.08 537.13V755.47M279.18 537.13H290.98M279.18 755.47H290.98M293.06 538.99V757.01M287.16 538.99H298.96M287.16 757.01H298.96M301.05 540.94V758.66M295.15 540.94H306.95M295.15 758.66H306.95M309.04 543.4V760.8M303.14 543.4H314.94M303.14 760.8H314.94M317.03 546.02V762.98M311.13 546.02H322.93M311.13 762.98H322.93M325.02 548.54V765.06M319.12 548.54H330.92M319.12 765.06H330.92M333 551.06V767.14M327.1 551.06H338.9M327.1 767.14H338.9M340.99 553.98V769.62M335.09 553.98H346.89M335.09 769.62H346.89M348.98 557.4V772.6M343.08 557.4H354.88M343.08 772.6H354.88M356.97 560.66V775.14M351.07 560.66H362.87M351.07 775.14H362.87M364.96 564.22V777.98M359.06 564.22H370.86M359.06 777.98H370.86M372.94 567.48V780.52M367.04 567.48H378.84M367.04 780.52H378.84M380.93 571.34V783.66M375.03 571.34H386.83M375.03 783.66H386.83M388.92 575.2V786.8M383.02 575.2H394.82M383.02 786.8H394.82M396.91 579.38V789.62M391.01 579.38H402.81M391.01 789.62H402.81M404.9 583.85V792.75M399 583.85H410.8M399 792.75H410.8M412.88 588.33V795.88M406.98 588.33H418.78M406.98 795.88H418.78M420.87 592.3V798.5M414.97 592.3H426.77M414.97 798.5H426.77M428.86 596.4V801.6M422.96 596.4H434.76M422.96 801.6H434.76M436.85 600.5V805.7M430.95 600.5H442.75M430.95 805.7H442.75M444.84 604.8V809.6M438.94 604.8H450.74M438.94 809.6H450.74M452.82 609.2V812.8M446.92 609.2H458.72M446.92 812.8H458.72M460.81 613.9V816.1M454.91 613.9H466.71M454.91 816.1H466.71M468.8 618.5V819.7M462.9 618.5H474.7M462.9 819.7H474.7M476.79 624.1V823.5M470.89 624.1H482.69M470.89 823.5H482.69M484.78 629.9V827.1M478.88 629.9H490.68M478.88 827.1H490.68M492.76 635.5V830.7M486.86 635.5H498.66M486.86 830.7H498.66M500.75 641.3V834.3M494.85 641.3H506.65M494.85 834.3H506.65M508.74 647.2V837.2M502.84 647.2H514.64M502.84 837.2H514.64M516.73 652.1V840.5M510.83 652.1H522.63M510.83 840.5H522.63M524.72 657.4V842.8M518.82 657.4H530.62M518.82 842.8H530.62M532.7 662V844M526.8 662H538.6M526.8 844H538.6M540.69 665.5V845.1M534.79 665.5H546.59M534.79 845.1H546.59M548.68 668.2V844.2M542.78 668.2H554.58M542.78 844.2H554.58M556.67 668.2V842.4M550.77 668.2H562.57M550.77 842.4H562.57M564.66 666.7V836.9M558.76 666.7H570.56M558.76 836.9H570.56M572.64 663.2V830M566.74 663.2H578.54M566.74 830H578.54M580.63 658.5V821.7M574.73 658.5H586.53M574.73 821.7H586.53M588.62 651.6V813.6M582.72 651.6H594.52M582.72 813.6H594.52M596.61 643.1V802.1M590.71 643.1H602.51M590.71 802.1H602.51M604.6 632.4V787.8M598.7 632.4H610.5M598.7 787.8H610.5M612.58 620.4V774M606.68 620.4H618.48M606.68 774H618.48M620.57 608.8V761.6M614.67 608.8H626.47M614.67 761.6H626.47M628.56 598.4V751M622.66 598.4H634.46M622.66 751H634.46M636.55 590.6V743.2M630.65 590.6H642.45M630.65 743.2H642.45M644.54 586.4V738M638.64 586.4H650.44M638.64 738H650.44M652.52 581.3V732.3M646.62 581.3H658.42M646.62 732.3H658.42M660.51 578.9V730.1M654.61 578.9H666.41M654.61 730.1H666.41"/>
</g>
<g fill="#ff0000">
<circle cx="69.4" cy="618.7" r="2.05"/>
<circle cx="77.39" cy="618.7" r="2.05"/>
<circle cx="85.38" cy="619.6" r="2.05"/>
<circle cx="93.36" cy="620.1" r="2.05"/>
<circle cx="101.35" cy="620.4" r="2.05"/>
<circle cx="109.34" cy="621" r="2.05"/>
<circle cx="117.33" cy="621.6" r="2.05"/>
<circle cx="125.32" cy="622.2" r="2.05"/>
<circle cx="133.3" cy="623.6" r="2.05"/>
<circle cx="141.29" cy="625.1" r="2.05"/>
<circle cx="149.28" cy="626" r="2.05"/>
<circle cx="157.27" cy="627.2" r="2.05"/>
<circle cx="165.26" cy="628.3" r="2.05"/>
<circle cx="173.24" cy="629.2" r="2.05"/>
<circle cx="181.23" cy="629.8" r="2.05"/>
<circle cx="189.22" cy="631" r="2.05"/>
<circle cx="197.21" cy="632.1" r="2.05"/>
<circle cx="205.2" cy="633.3" r="2.05"/>
<circle cx="213.18" cy="634.2" r="2.05"/>
<circle cx="221.17" cy="635.3" r="2.05"/>
<circle cx="229.16" cy="636.5" r="2.05"/>
<circle cx="237.15" cy="637.4" r="2.05"/>
<circle cx="245.14" cy="638.2" r="2.05"/>
<circle cx="253.12" cy="639.8" r="2.05"/>
<circle cx="261.11" cy="641.3" r="2.05"/>
<circle cx="269.1" cy="642.8" r="2.05"/>
<circle cx="277.09" cy="644.5" r="2.05"/>
<circle cx="285.08" cy="646.3" r="2.05"/>
<circle cx="293.06" cy="648" r="2.05"/>
<circle cx="301.05" cy="649.8" r="2.05"/>
<circle cx="309.04" cy="652.1" r="2.05"/>
<circle cx="317.03" cy="654.5" r="2.05"/>
<circle cx="325.02" cy="656.8" r="2.05"/>
<circle cx="333" cy="659.1" r="2.05"/>
<circle cx="340.99" cy="661.8" r="2.05"/>
<circle cx="348.98" cy="665" r="2.05"/>
<circle cx="356.97" cy="667.9" r="2.05"/>
<circle cx="364.96" cy="671.1" r="2.05"/>
<circle cx="372.94" cy="674" r="2.05"/>
<circle cx="380.93" cy="677.5" r="2.05"/>
<circle cx="388.92" cy="681" r="2.05"/>
<circle cx="396.91" cy="684.5" r="2.05"/>
<circle cx="404.9" cy="688.3" r="2.05"/>
<circle cx="412.88" cy="692.1" r="2.05"/>
<circle cx="420.87" cy="695.4" r="2.05"/>
<circle cx="428.86" cy="699" r="2.05"/>
<circle cx="436.85" cy="703.1" r="2.05"/>
<circle cx="444.84" cy="707.2" r="2.05"/>
<circle cx="452.82" cy="711" r="2.05"/>
<circle cx="460.81" cy="715" r="2.05"/>
<circle cx="468.8" cy="719.1" r="2.05"/>
<circle cx="476.79" cy="723.8" r="2.05"/>
<circle cx="484.78" cy="728.5" r="2.05"/>
<circle cx="492.76" cy="733.1" r="2.05"/>
<circle cx="500.75" cy="737.8" r="2.05"/>
<circle cx="508.74" cy="742.2" r="2.05"/>
<circle cx="516.73" cy="746.3" r="2.05"/>
<circle cx="524.72" cy="750.1" r="2.05"/>
<circle cx="532.7" cy="753" r="2.05"/>
<circle cx="540.69" cy="755.3" r="2.05"/>
<circle cx="548.68" cy="756.2" r="2.05"/>
<circle cx="556.67" cy="755.3" r="2.05"/>
<circle cx="564.66" cy="751.8" r="2.05"/>
<circle cx="572.64" cy="746.6" r="2.05"/>
<circle cx="580.63" cy="740.1" r="2.05"/>
<circle cx="588.62" cy="732.6" r="2.05"/>
<circle cx="596.61" cy="722.6" r="2.05"/>
<circle cx="604.6" cy="710.1" r="2.05"/>
<circle cx="612.58" cy="697.2" r="2.05"/>
<circle cx="620.57" cy="685.2" r="2.05"/>
<circle cx="628.56" cy="674.7" r="2.05"/>
<circle cx="636.55" cy="666.9" r="2.05"/>
<circle cx="644.54" cy="662.2" r="2.05"/>
<circle cx="652.52" cy="656.8" r="2.05"/>
<circle cx="660.51" cy="654.5" r="2.05"/>
</g>
<line x1="548.7" y1="493.4" x2="548.7" y2="858.2" stroke="#262626" stroke-width="1.4" stroke-dasharray="4.6 5.27" stroke-dashoffset="-5.4"/>
<line x1="628.5" y1="493.4" x2="628.5" y2="858.2" stroke="#262626" stroke-width="1.4" stroke-dasharray="4.6 5.27" stroke-dashoffset="-5.4"/>
<line x1="45.8" y1="493.4" x2="684.3" y2="493.4" stroke="#848484" stroke-width="1.3" stroke-linecap="square"/>
<line x1="45.8" y1="858.2" x2="684.3" y2="858.2" stroke="#8a8a8a" stroke-width="1.3" stroke-linecap="square"/>
<line x1="45.8" y1="493.4" x2="45.8" y2="858.2" stroke="#8a8a8a" stroke-width="1.3" stroke-linecap="square"/>
<line x1="684.3" y1="493.4" x2="684.3" y2="858.2" stroke="#888888" stroke-width="1.3" stroke-linecap="square"/>
<line x1="111" y1="858.2" x2="111" y2="863.8" stroke="#555555" stroke-width="1.1"/>
<text x="111" y="879.6" text-anchor="middle" font-size="14.2">&#8722;9</text>
<line x1="196.88" y1="858.2" x2="196.88" y2="863.8" stroke="#555555" stroke-width="1.1"/>
<text x="196.88" y="879.6" text-anchor="middle" font-size="14.2">&#8722;8</text>
<line x1="282.76" y1="858.2" x2="282.76" y2="863.8" stroke="#555555" stroke-width="1.1"/>
<text x="282.76" y="879.6" text-anchor="middle" font-size="14.2">&#8722;7</text>
<line x1="368.64" y1="858.2" x2="368.64" y2="863.8" stroke="#555555" stroke-width="1.1"/>
<text x="368.64" y="879.6" text-anchor="middle" font-size="14.2">&#8722;6</text>
<line x1="454.52" y1="858.2" x2="454.52" y2="863.8" stroke="#555555" stroke-width="1.1"/>
<text x="454.52" y="879.6" text-anchor="middle" font-size="14.2">&#8722;5</text>
<line x1="540.4" y1="858.2" x2="540.4" y2="863.8" stroke="#555555" stroke-width="1.1"/>
<text x="540.4" y="879.6" text-anchor="middle" font-size="14.2">&#8722;4</text>
<line x1="626.28" y1="858.2" x2="626.28" y2="863.8" stroke="#555555" stroke-width="1.1"/>
<text x="626.28" y="879.6" text-anchor="middle" font-size="14.2">&#8722;3</text>
<text x="69.4" y="479.2" text-anchor="middle" font-size="10.4">26</text>
<text x="93.36" y="479.2" text-anchor="middle" font-size="10.4">25</text>
<text x="117.33" y="479.2" text-anchor="middle" font-size="10.4">26</text>
<text x="141.29" y="479.2" text-anchor="middle" font-size="10.4">26</text>
<text x="165.26" y="479.2" text-anchor="middle" font-size="10.4">25</text>
<text x="189.22" y="479.2" text-anchor="middle" font-size="10.4">25</text>
<text x="213.18" y="479.2" text-anchor="middle" font-size="10.4">25</text>
<text x="237.15" y="479.2" text-anchor="middle" font-size="10.4">24</text>
<text x="261.11" y="479.2" text-anchor="middle" font-size="10.4">24</text>
<text x="285.08" y="479.2" text-anchor="middle" font-size="10.4">23</text>
<text x="309.04" y="479.2" text-anchor="middle" font-size="10.4">23</text>
<text x="333" y="479.2" text-anchor="middle" font-size="10.4">24</text>
<text x="356.97" y="479.2" text-anchor="middle" font-size="10.4">24</text>
<text x="380.93" y="479.2" text-anchor="middle" font-size="10.4">22</text>
<text x="404.9" y="479.2" text-anchor="middle" font-size="10.4">22</text>
<text x="428.86" y="479.2" text-anchor="middle" font-size="10.4">21</text>
<text x="452.82" y="479.2" text-anchor="middle" font-size="10.4">20</text>
<text x="476.79" y="479.2" text-anchor="middle" font-size="10.4">17</text>
<text x="500.75" y="479.2" text-anchor="middle" font-size="10.4">15</text>
<text x="524.72" y="479.2" text-anchor="middle" font-size="10.4">11</text>
<text x="548.68" y="479.2" text-anchor="middle" font-size="10.4">9</text>
<text x="564.66" y="479.2" text-anchor="middle" font-size="10.4">9</text>
<text x="580.63" y="479.2" text-anchor="middle" font-size="10.4">8</text>
<text x="596.61" y="479.2" text-anchor="middle" font-size="10.4">6</text>
<text x="612.58" y="479.2" text-anchor="middle" font-size="10.4">6</text>
<text x="628.56" y="479.2" text-anchor="middle" font-size="10.4">5</text>
<text x="644.54" y="479.2" text-anchor="middle" font-size="10.4">2</text>
<text x="660.51" y="479.2" text-anchor="middle" font-size="10.4">0</text>
<line x1="40" y1="550" x2="45.8" y2="550" stroke="#555555" stroke-width="1.1"/>
<text class="r" transform="translate(32.1 550) rotate(-90)" text-anchor="middle" font-size="14.8">0.210</text>
<line x1="40" y1="611.62" x2="45.8" y2="611.62" stroke="#555555" stroke-width="1.1"/>
<text class="r" transform="translate(32.1 611.62) rotate(-90)" text-anchor="middle" font-size="14.8">0.205</text>
<line x1="40" y1="673.25" x2="45.8" y2="673.25" stroke="#555555" stroke-width="1.1"/>
<text class="r" transform="translate(32.1 673.25) rotate(-90)" text-anchor="middle" font-size="14.8">0.200</text>
<line x1="40" y1="734.87" x2="45.8" y2="734.87" stroke="#555555" stroke-width="1.1"/>
<text class="r" transform="translate(32.1 734.87) rotate(-90)" text-anchor="middle" font-size="14.8">0.195</text>
<line x1="40" y1="796.5" x2="45.8" y2="796.5" stroke="#555555" stroke-width="1.1"/>
<text class="r" transform="translate(32.1 796.5) rotate(-90)" text-anchor="middle" font-size="14.8">0.190</text>
<text class="r" transform="translate(14.1 675.2) rotate(-90)" text-anchor="middle" font-size="14.6">Mean&#8722;Squared Error</text>
<text x="342.2" y="899.3" font-size="14.4">Log<tspan font-family="Liberation Serif" font-size="16.4" dx="0.5" letter-spacing="0.6">(&#955;)</tspan></text>
</svg>
</body></html>
